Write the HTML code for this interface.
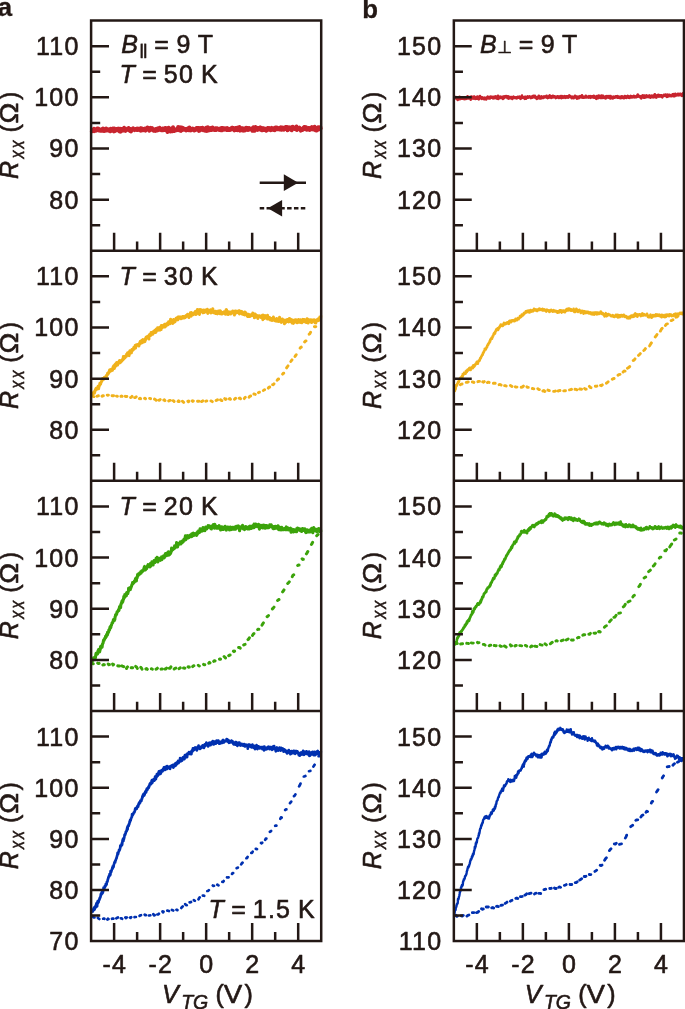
<!DOCTYPE html>
<html><head><meta charset="utf-8"><title>Rxx vs VTG</title>
<style>html,body{margin:0;padding:0;background:#fff}body{width:685px;height:1009px;overflow:hidden}</style></head>
<body>
<svg width="685" height="1009" viewBox="0 0 685 1009" style="display:block">
<rect width="685" height="1009" fill="#fff"/>
<g fill="none" stroke-linejoin="round" stroke-linecap="butt"><path d="M91.6 130.4l.3 .9 .2-.1 .3-1.3 .2 .1 .3-.3 .2 .9 .3-.6 .2 .8 .3-2 .2 2.6 .3-1.3 .2 .6 .3-.6 .2-.2 .3 .6 .2 .3 .3-.8 .2 0 .3 .5 .2-1.2 .3-.5 .2 1.3 .3-.8 .2-.9 .3 .7 .2 .2 .3-.4 .2-.1 .3 1.1 .2 .7 .3-.7 .2-.4 .3 .8 .2 .3 .3-.7 .2 .6 .3 .3 .2-.9 .3-.5 .2 .9 .3-.2 .2 .7 .3-1.9 .2 .4 .2-.2 .3-.6 .3 1.4 .2 .4 .2-.8 .3 1.6 .3-.4 .2-.1 .2-.3 .3 .4 .3-1.7 .2 1.3 .2-.1 .3-1.7 .3 1.6 .2-.5 .2 .9 .3-.9 .3 .2 .2 .3 .2-.9 .3 1.1 .3-.6 .2 .6 .2-.8 .3 1.2 .3-.3 .2-.5 .2 .6 .3 .4 .3 .4 .2-2.5 .2 1.7 .3-.4 .3-.3 .2-.8 .2 1.7 .3-1.8 .3 1.3 .2 .5 .2-2.2 .3 .9 .3-.7 .2 1.4 .2 .8 .3 .5 .3-2.9 .2 .9 .2 .9 .3 .7 .3-.8 .2-.9 .2 .6 .3-.3 .3 0 .2-.4 .2 .8 .3-.1 .3-.3 .2-.2 .2-.7 .3 .6 .3 1.2 .2-.9 .2-.9 .3 2.1 .3-.6 .2 1.3 .2-1.7 .3-.4 .3-.7 .2 2 .2 1 .3-2.5 .3 0 .2 .8 .2-1.1 .3 .5 .3 0 .2 .4 .2 .8 .3-.8 .3 .6 .2-1.2 .2 .5 .3-1.9 .3 .5 .2 1.7 .2-.8 .3 1 .3 0 .2 .7 .2-.5 .3 .1 .3-1 .2-.5 .2-.1 .3 .1 .3-.4 .2 .4 .2 .4 .3 .2 .3-.4 .2-1.2 .3 1.4 .2 .3 .3 .7 .2-.4 .3-.8 .2-.1 .3 2.1 .2-.7 .3 .8 .2 .1 .3-2.2 .2 .8 .3-.1 .2 .2 .3-.1 .2-.3 .3-.1 .2-1.3 .3 1 .2-.5 .3 .8 .2-.4 .3 .8 .2 .2 .3-.3 .2-.1 .3-.2 .2-.5 .3 .2 .2-.2 .3 .7 .2-.4 .3 .5 .2-1.5 .3 1.6 .2-1.2 .3 0 .2 .4 .3-.3 .2 .6 .3-.7 .2-.2 .3 .1 .2 1.6 .3-.9 .2-.9 .3 .9 .2-1.3 .3 2.6 .2-2.4 .3 1.5 .2-.1 .3-1.3 .2 1.3 .3 .5 .2-.3 .3-.1 .2 .4 .3-.6 .2 .1 .3-.4 .2 .6 .3-1.2 .2 1.2 .3-1 .2-.3 .3 1.1 .2 1 .3-.4 .2-1.2 .3 .8 .2-.9 .3 .1 .2 .1 .3-1.8 .2 1.8 .3-1 .2 .3 .3-.6 .2 .1 .3 .5 .2 1.4 .3 .8 .2-1.2 .3 .7 .2-1.2 .3-1.2 .2 1.5 .3 .2 .2-.5 .3 .5 .2 .1 .3-1.1 .2-.4 .3 .8 .2 .2 .3 0 .2 1 .3 .6 .2-1.5 .3 .8 .2 .2 .3-.2 .2 .3 .3-1.1 .2 .9 .3 .9 .2-.9 .3-1 .2 .8 .3 .4 .2-.5 .3-.9 .2 1.6 .3-2.1 .2 1.2 .3-.4 .2-.8 .3 1.8 .2-.7 .3-1.1 .2 1.2 .3-.9 .2-1 .3 .9 .2 .8 .3 .4 .2-.3 .3-.1 .2 .3 .3-.5 .2 1.1 .3-.8 .2 .1 .3 0 .2-1.1 .3 .3 .2 1.6 .3-.8 .2-.4 .3 .3 .2-.6 .3 .6 .2-.9 .3 .9 .2-1.5 .3 2.1 .2-1.4 .3-.7 .2 1 .3-.2 .2 .5 .3-.7 .2 1.1 .3 2.4 .2-3.6 .3 1.2 .2-.8 .3 .3 .2-1.4 .3 .5 .2 1.3 .3-.4 .2 1.4 .3-1.6 .2 .6 .3 1.9 .2-2.7 .3-.1 .2 .5 .3 0 .2 .7 .3-.5 .2-.5 .3 .7 .2 1.7 .3-1 .2-3.1 .3 1.8 .2-.6 .3 1.4 .2-.5 .3 1.7 .2-.8 .3 0 .2-.7 .3-.1 .2 .2 .3 .7 .2-.5 .3-.6 .2 1.1 .3-.9 .2-.2 .3-.7 .2 0 .3 0 .2-1.5 .3 2.9 .2-.2 .3-.4 .2 .9 .3-.7 .2 0 .3-2.2 .2 1.8 .3 .6 .2 1.1 .3 .1 .2-.5 .3-2 .2-.9 .3 2.1 .2-.4 .3 .9 .2-1 .3 .3 .2-1.4 .3 1.5 .2-.6 .3 .6 .2 .1 .3-.4 .2 .4 .3-.3 .2 .6 .3-.3 .2-.7 .3 0 .2 1.7 .3-1.3 .2 .8 .3-.6 .2-.7 .3-.2 .2 .7 .3 .1 .2 .2 .3-1.4 .2 .6 .3 .2 .2 1.4 .3-3 .2 2.1 .3-.8 .2 .9 .3-.7 .2 .7 .3 .9 .2-.8 .3 0 .2-.1 .3-.9 .2 .9 .3-.6 .2-.4 .3 .6 .2-.2 .3 .8 .2-.5 .3-.3 .2 1.5 .3-.3 .2 .2 .3-.6 .2-.6 .3-.3 .2 .1 .3 .9 .2-.6 .3-1.3 .2 1 .3-1.1 .2 1.2 .3-1 .2 0 .3 1 .2-.1 .3-1 .2 1.8 .3 1.1 .2-2.6 .3 2.4 .2-2.1 .3 .2 .2 .2 .3-.9 .2 2 .3-.6 .2-.9 .3 .3 .2-.9 .3 .8 .2 .9 .3-1.9 .2 1.1 .3 .4 .2 .8 .3 .2 .2-1.3 .3-.3 .2 .8 .3-.6 .2 .2 .2 1.1 .3 .4 .3-1 .2-.5 .2 .5 .3-2 .3 1.6 .2-.8 .2 2.7 .3-1.2 .3-.6 .2-.3 .2-1.7 .3 2.4 .3 .7 .2-1.6 .2 .9 .3 0 .3-1.6 .2 1.9 .2 .2 .3-.7 .3-.3 .2 .5 .2-1.7 .3 1.2 .3 .7 .2-1.6 .2 1.5 .3-1.1 .3-1.3 .2 1.5 .2-.7 .3 1.1 .3-1.1 .2 1.7 .2-1.4 .3 .9 .3-.7 .2 .3 .2 1.1 .3-.8 .3-.4 .2-.7 .2 1.8 .3-.3 .3-.8 .2 .3 .2-1 .3 0 .3 .2 .2 .9 .2 0 .3-.6 .3 1.1 .2 0 .2-.4 .3 .6 .3-1 .2 .1 .2 .4 .3-.4 .3 .7 .2-1.6 .2 2 .3-1.8 .3 .6 .2-.9 .2 1.5 .3 .6 .3-.2 .2-.2 .2-1.9 .3 .4 .3 .3 .2-.3 .2 1.6 .3-.6 .3-.2 .2 .3 .2-1.2 .3 .1 .3 0 .2 1.1 .2 0 .3 .2 .3 .3 .2-1.8 .2 .4 .3 .5 .3-1 .2 .7 .2 1.2 .3 .2 .3 0 .2-.8 .2-.3 .3 .9 .3-1 .2 .5 .2 .7 .3-1.3 .3-.1 .2 .4 .2 .4 .3 0 .3-.3 .2 .2 .2-1.6 .3 .5 .3 .6 .2-.8 .2-.3 .3 .1 .3 .2 .2 .6 .2-.4 .3 1 .3 1.1 .2-1.3 .2 1 .3-.8 .3-1.2 .2 .7 .2-.7 .3 1.5 .3-1.4 .2 1.8 .2-.6 .3-1.8 .3 2 .2 .6 .2-1.7 .3 1.3 .3-2.3 .2 1.6 .2-1.6 .3 1.6 .3-1.7 .2-.4 .2 2.2 .3 1.5 .3-2 .2 1.1 .2-.7 .3-.2 .3 .6 .2 .8 .2-2.1 .3 1.2 .3-.2 .2-1.1 .2 2.2 .3 .3 .3-2.1 .2 2 .2-1.3 .3-.1 .3 1.1 .2-.8 .2 .1 .3 .9 .3-.3 .2-.4 .2-1.8 .3-.2 .3 2 .2-1.6 .2 .9 .3-1 .3 .8 .2-.9 .2 2.2 .3-2 .3 .9 .2-.3 .2 1.1 .3-1.9 .3 1 .2-.1 .2 .6 .3-.1 .3-.7 .2 .6 .2-.5 .3 .6 .3-.5 .2-.3 .2 .5 .3 .3 .3 1.5 .2-2 .2 .5 .3 .6 .3-2.7 .2 .2 .2 .5 .3 .9 .3 2.1 .2-1.5 .2 .5 .3-1.3 .3-1.7 .2 .1 .2 2.4 .3-.4 .3-1.1 .2 1.8 .2-1.9 .3 2.1 .3 .1 .2-1.6 .2-.4 .3 1.5 .3-1.5 .2 1.6 .2-1.6 .3 1.5 .3-.6 .2-.3 .2-.5 .3 .8 .3-1.6 .2 1.3 .2-.2 .3 1 .3-1.4 .2 2.2 .2-1.5 .3-.5 .3 1.8 .2 .2 .2-1.3 .3-.7 .3 .6 .2-.5 .2 .4 .3 1.4 .3-.8 .2-.2 .2 .1 .3-.3 .3 .7 .2 0 .2-.8 .3 .3 .3 1.7 .2-1.4 .2-.4 .3 1.4 .3-1.5 .2-.9 .2 1.2 .3-1.1 .3 .3 .2 .5 .2-.3 .3-.5 .3 .2 .2 0 .2 1.3 .3-1.3 .3 .2 .2 1.9 .2-1.8 .3 1.6 .3-.4 .2-1 .2-1 .3 1.4 .3 .1 .2 .4 .2-.6 .3 .7 .3 .2 .2-1.8 .2 1.7 .3-1 .3-.4 .2 .1 .2 1.6 .3-.7 .3-2 .2 1.2 .2-.2 .3 0 .3-.2 .2-.8 .2 1.7 .3-1.3 .3 .4 .2-.1 .2-.1 .3 1.1 .3-.3 .2-.7 .2-.2 .3 .3 .3 1.1 .2-.6 .2 .1 .3-.4 .3-.1 .2 .4 .2-1.6 .3 2.6 .3-1.7 .2 .3 .2 1.3 .3-.8 .3-.2 .2-.6 .2-.6 .3 1.2 .3 .9 .2-1.6 .2 1.7 .3-1.9 .3 .3 .2 .9 .2-.4 .3 .5 .3-1.2 .2-.3 .2-.7 .3 .4 .3 .2 .2-.2 .2 1.3 .3-.5 .3-1 .2 3.3 .2-2.4 .3-.1 .3 1.6 .2-.1 .2-1.7 .3-.3 .3 .3 .2 1.6 .2-1 .3-.2 .3 .4 .2 .9 .2-2 .3 .9 .3-.7 .2 2.8 .2-.2 .3-.6 .3-1 .2 .5 .2-2.3 .3 1.8 .3-1.3 .2 .1 .2 .5 .3 .3 .3 .8 .2 .1 .2-.3 .3-.9 .3 1.2 .2-.6 .2 .8 .3-1.6 .3-1.3 .2 1.7 .2 2 .3-1 .3-.5 .2 .7 .2-.3 .3 0 .3-.8 .2 .4 .2 0 .3-.6 .3-.4 .2 1 .2 .7 .3-.1 .3 0 .2 0 .2 1.5 .3-1.6 .3 .5 .2 .6 .2-1.4 .3 .2 .3 .5 .2 .5 .2-1.1 .3-.1 .3-.2 .2-1 .2 1.6 .3-1.1 .3-1.1 .2 1.1 .2-1.2 .3 .6 .3 .8 .2-.7 .2 1.6 .3-1.9 .3 1.5 .2 .2 .2 .8 .3-.5 .3-.5 .2-.2 .2-.2 .3 1 .3-1.4 .2 .9 .2-.6 .3 .5 .3-.5 .2 1.8 .2-2.1 .3 .8 .3-.1 .2 .3 .2-.1 .3-.1 .3 .4 .2-2 .2 1.1 .3-1 .3 1.1 .2-1.1 .2 .3 .3 .7 .3 1.2 .2-.5 .2-.2 .3 .6 .3-1.8 .2-.9 .2 1.2 .3 .3 .3 1.2 .2 .8 .2-2.5 .3 2.9 .3-.8 .2-.4 .2-.4 .3 1.4 .3-1.8 .2-.6 .2 .4 .3-1.2 .3 1.5 .2-.5 .2 .4 .3 .1 .3-1.2 .2 1.8 .2-1.8 .3 1.5 .3-2 .2 1.5 .2-1" stroke="#c8242e" stroke-width="3.9"/>
<path d="M92.9 395.7l.5 .8 .5 .1M97 396.3l.7 -.4 .7 -.1M102 396.2l.7 -.5 .7 .1M107.2 395.1l.6 .1 .6 -.1M112 395.7l.8 0 .8 0M116.4 396.1l.5 0 .5 .2M120.9 396.3l.6 -.3 .6 .3M125.3 396.3l.8 .2 .8 0M130.6 397.6l.7 -.4 .7 -.8M134.6 397.6l.8 -.1 .8 -.7M139.4 398.6l.6 -.4 .6 .5M144.5 398.3l.5 -.1 .5 .6M149.6 398.4l.5 .1 .5 .2M154.5 399.1l.8 .4 .8 .8M158.8 400.2l.7 0 .7 -.7M163.8 400.1l.6 -.3 .6 .8M168.7 400.9l.8 -.5 .8 0M173.1 400.7l.5 .2 .5 .5M178 401.5l.6 -.7 .6 .6M182.5 401.2l.6 .7 .6 .5M187.9 401.2l.5 .6 .5 -.7M192.3 400.9l.5 .5 .5 -.4M197.5 401.2l.7 .1 .7 -.1M201.6 401.6l.6 -.3 .6 -.5M205.8 401.2l.5 -.1 .5 -.2M210.9 400.9l.7 .2 .7 .5M216.1 400.5l.7 -.4 .7 -.3M220.5 399.8l.7 .5 .7 .3M224.7 398.6l.7 .8 .7 -.3M229.3 398.9l.6 -.3 .6 .6M234.5 399.2l.6 -.6 .6 -.3M239.2 398.3l.7 -.4 .7 .9M244.3 398.6l.5 -.8 .5 -.5M249.1 397.3l.8 -1.2 .8 -.1M253.9 394l.7 .2 .7 .2M258.5 392.7l.5 -.4 .5 0M263.4 390.5l.6 -.5 .6 -.3M268.3 388.1l.7 -1 .7 -.1M272.6 384.6l.7 .1 .7 -.9M277.2 380.3l.7 -1.1 .7 -.2M282.6 374.1l.6 -.8 .6 0M286.6 367.9l.7 -1.1 .7 -.9M290.8 361.5l.6 -.8 .6 -.8M295 356.6l.6 -1 .6 -.9M300.1 348.2l.6 -.8 .6 -.3M304.6 342l.7 -.8 .7 -.3M309.2 334.2l.7 -.6 .7 -1.4M314.4 326.7l.7 .2 .7 -.2" stroke="#f0b21c" stroke-width="2.9" stroke-linecap="round"/>
<path d="M91.6 393.8l.3-.2 .2-.2 .3 .4 .2-.7 .3 .7 .2-.4 .3-.2 .2 0 .3-.8 .2-.3 .3 1.2 .2-2 .3 .4 .2-1.2 .3-.9 .2-.4 .3-.7 .2 .4 .3-.7 .2-.1 .3 1.3 .2-1.5 .3 1 .2-1.3 .3 .2 .2-1.5 .3 .4 .2 2 .3-1.9 .2-.1 .3-1.4 .2 .1 .3-2.2 .2 0 .3 .7 .2 .1 .3-1.4 .2-.2 .3-.7 .2-.2 .3-1.3 .2-.6 .3 .8 .2-1.8 .2 .4 .3 0 .3-.5 .2 .9 .2-1 .3 0 .3-1.1 .2 0 .2 .8 .3-.4 .3-.9 .2 .3 .2-.3 .3-.4 .3 1 .2-2.1 .2 .4 .3-.6 .3-.8 .2-1.1 .2 1.3 .3-.7 .3-.3 .2-.5 .2-.3 .3-1.3 .3 .8 .2-2.3 .2 1.4 .3-1.6 .3 .9 .2 .6 .2-.9 .3-.5 .3 .5 .2-1 .2-.2 .3-.2 .3 1.5 .2-1.1 .2-.4 .3-2 .3 1.3 .2-2.1 .2 1.6 .3-1.9 .3 2.7 .2-3.5 .2 2.3 .3-.9 .3-2.3 .2 1.1 .2 1 .3-.4 .3-2.8 .2 .5 .2-1 .3 .2 .3 .2 .2 2.1 .2-1.7 .3-.4 .3-.4 .2 .5 .2 0 .3-1.8 .3 1.9 .2-2.6 .2 .8 .3 .2 .3 1.1 .2-1.9 .2 .3 .3 .7 .3-.7 .2 .2 .2-.4 .3-.9 .3 0 .2 .1 .2-1.3 .3 1.1 .3-3.4 .2 .8 .2 1.6 .3-.9 .3-.9 .2 .5 .2 .4 .3-1.7 .3 1 .2-1.2 .2 0 .3-.4 .3 .8 .2-2.1 .2 .3 .3 .4 .3-1.7 .2-.5 .2 1.6 .3-.6 .3-.3 .2 .3 .3-1.4 .2 3.3 .3-3.9 .2 .3 .3-1.2 .2 .7 .3 1.7 .2-1.5 .3 .5 .2-1.3 .3 1.7 .2-1.7 .3-1.5 .2 1.5 .3-1.3 .2 .8 .3-.7 .2-.1 .3-.6 .2-1.1 .3-.8 .2 2 .3-1.1 .2 .1 .3-1.2 .2-1.4 .3 .3 .2 2.2 .3-2.1 .2 .2 .3-1.4 .2 .7 .3-.1 .2 0 .3-.1 .2-.7 .3-.1 .2 .3 .3 .3 .2-.6 .3 1.5 .2-1.7 .3-.1 .2-1.3 .3 1.1 .2-2.2 .3-.6 .2 .2 .3 1.4 .2-1.6 .3 1.9 .2-1.5 .3-1.3 .2 .8 .3 1.5 .2-2.4 .3-.5 .2 1.4 .3 .6 .2-.4 .3-1.4 .2 .3 .3 0 .2 .6 .3 .8 .2-2.3 .3 1 .2-2 .3 .6 .2-1.7 .3-.1 .2 .9 .3-1.3 .2 1.4 .3-1.5 .2 .4 .3-.4 .2-.3 .3 .6 .2 .5 .3 1.7 .2-4.1 .3 1 .2-.9 .3-.9 .2 .9 .3-1.1 .2 .4 .3 1 .2-2.9 .3 1.7 .2 0 .3-1.2 .2 1.1 .3-.3 .2-.8 .3 1.2 .2-2.5 .3 1.5 .2-1.1 .3-.8 .2 .6 .3-.4 .2 .9 .3-2.2 .2 1.1 .3-.6 .2 1.9 .3-2.7 .2 1.9 .3-2.9 .2 1.8 .3-.7 .2 .2 .3-1.3 .2-1.2 .3 .2 .2 2.4 .3-.8 .2-1.1 .3 1.2 .2-1.8 .3 .1 .2-.5 .3 2 .2 .7 .3-2.6 .2 1.1 .3 0 .2 1 .3-4.2 .2 1.9 .3 .1 .2-1.8 .3 1.6 .2-.4 .3 .5 .2-1.5 .3 .8 .2-1.1 .3 1 .2-.8 .3-.4 .2-1 .3 2.7 .2-.7 .3-.2 .2-1.6 .3 .1 .2 1.5 .3-.9 .2-1.5 .3 .5 .2-.2 .3-.3 .2-.7 .3 1.8 .2-.8 .3-.8 .2-1.5 .3 .8 .2 .3 .3 1 .2-1.2 .3 1.1 .2-1.3 .3-1 .2-2.2 .3 1.3 .2-.3 .3 1.5 .2 .4 .3 .8 .2-1.1 .3-1.1 .2 2.8 .3-2 .2-.6 .3-.3 .2-1.1 .3 1.8 .2-.2 .3 1.2 .2-.5 .3-.4 .2 .1 .3-1.6 .2-.5 .3 .1 .2-1.2 .3 1 .2-.2 .3 .7 .2-.7 .3-1.6 .2 1.4 .3 1 .2-2.8 .3 .7 .2 .4 .3-1.1 .2 .6 .3 .4 .2-1.1 .3 1.3 .2 0 .3-1.4 .2 1 .3 .9 .2-1.1 .3 .5 .2 0 .3-.8 .2 .9 .3-.7 .2-1.2 .3 1.2 .2 .1 .3 0 .2-1.3 .3 .9 .2 .7 .3-.9 .2 .7 .3 0 .2-1.4 .3 .6 .2-1.1 .3 1.1 .2-1.2 .3-.5 .2 .3 .3-.1 .2 .3 .3-.1 .2-1.5 .3 .4 .2 .7 .3 .4 .2-.2 .3 2.1 .2-1.4 .3-1 .2 .4 .3 .2 .2-1 .3-2 .2 1.6 .3-.3 .2 2.1 .3-3.7 .2 3.1 .3-1.9 .2 1.1 .3-1.2 .2 .4 .3 .8 .2-1 .3 .7 .2-1.2 .3-.4 .2 0 .3-.2 .2 .2 .3 1.1 .2-2.3 .3-.3 .2 1.3 .3 1.8 .2-.4 .3 .1 .2-.3 .3-2.2 .2 .5 .3-2.6 .2 1.7 .3 .8 .2-1.9 .3-.4 .2 .6 .3 1.7 .2 1.2 .3 1.2 .2-1.4 .3-2.8 .2-.9 .3 1.8 .2 .9 .3-2.3 .2 .9 .3-.1 .2 .6 .3-.1 .2 .6 .3 .5 .2-.7 .3 .4 .2 .9 .3-2.8 .2 .1 .3 1.1 .2 1.4 .3-1.5 .2 .8 .2-1.5 .3 1.1 .3-1.5 .2 1.2 .2-.2 .3 .2 .3 .8 .2-.3 .2-1.6 .3 1.3 .3-2.1 .2 2.5 .2 1.6 .3-1.7 .3 0 .2-.7 .2 .8 .3-1.2 .3 1 .2-.9 .2 0 .3 .3 .3 .1 .2-1.4 .2 3.3 .3-1.6 .3-1.4 .2 2.4 .2-.9 .3 .3 .3 .1 .2-1.4 .2-1.8 .3 2.7 .3 .3 .2 1 .2-1.5 .3 .5 .3 .5 .2-.5 .2 0 .3 .6 .3-1.1 .2 2.3 .2-2.2 .3 .9 .3-.4 .2-.2 .2 1.3 .3 .6 .3 .4 .2-.7 .2-1.2 .3 1.1 .3-2.1 .2 1.5 .2 .3 .3 0 .3-1.3 .2-.4 .2 2.6 .3-1.9 .3-.9 .2 .4 .2 1.2 .3 1.3 .3-.9 .2 1.2 .2-.9 .3 .2 .3 .4 .2-1.3 .2 .5 .3-.6 .3-.3 .2 1.2 .2-1.4 .3 .9 .3-.9 .2 .9 .2-.4 .3 1.5 .3-.7 .2-.2 .2 1.2 .3-4.4 .3 1.6 .2-1.6 .2 2.8 .3 .6 .3 .4 .2-.2 .2-1 .3 2.2 .3-1.4 .2-.4 .2-1 .3 1.4 .3-.8 .2 .2 .2 .4 .3 .2 .3-1 .2 1.8 .2-2.1 .3 0 .3 1.1 .2-.1 .2 .1 .3-.6 .3 .2 .2-.5 .2-1.1 .3 2.1 .3-1.5 .2 .8 .2 1 .3-.7 .3 2.4 .2-3.9 .2 .7 .3 .4 .3 1.1 .2-1.3 .2-1.2 .3 2.1 .3-1.8 .2 .7 .2 .8 .3-1.2 .3 .1 .2 .8 .2-.6 .3 .5 .3-1.3 .2 .7 .2-.7 .3-.3 .3 3.2 .2-1.1 .2 .6 .3-1.8 .3 .7 .2-.1 .2-1 .3 1.8 .3-1.2 .2 .8 .2-1.1 .3 2.5 .3-.3 .2-.1 .2-1.1 .3 .3 .3 1.7 .2-1.2 .2 .5 .3 0 .3-1.3 .2 2.5 .2-3.1 .3 2 .3-.4 .2-1 .2 1.8 .3 .2 .3-.2 .2-.6 .2 1.2 .3 .8 .3-.6 .2 1.5 .2-.7 .3-.2 .3 .4 .2-1.8 .2 .1 .3 1 .3 .2 .2 1 .2-.3 .3-.9 .3-.1 .2-.6 .2 0 .3-.1 .3 1.2 .2-1.1 .2 .1 .3 .4 .3-.7 .2 .3 .2-1.8 .3 2.4 .3-.5 .2 .5 .2 .4 .3-1.9 .3 3.9 .2-2.2 .2 .3 .3-1.9 .3 2.1 .2-.1 .2-.4 .3 .5 .3 .9 .2-1.3 .2-.4 .3 1.9 .3-.7 .2-.2 .2 2.1 .3-1.9 .3-.3 .2 .3 .2-.6 .3 .5 .3-.1 .2-.6 .2 .4 .3 .6 .3 .3 .2 .2 .2 .3 .3-.6 .3 .2 .2-.7 .2-.1 .3 1.2 .3-2.3 .2 1.9 .2 2.6 .3-4.4 .3 3 .2-3 .2 2.3 .3 .9 .3 0 .2-2.3 .2-.4 .3-.3 .3 2.1 .2-.8 .2 .6 .3 .3 .3 .3 .2 0 .2-.1 .3-1.8 .3 2.9 .2-3.8 .2 3.8 .3-1.8 .3 .7 .2-.3 .2 .2 .3 .3 .3 0 .2-.6 .2 1.9 .3-1.2 .3 1.9 .2-1.3 .2-.3 .3 .9 .3 .5 .2-1.3 .2 .5 .3 1.4 .3-2 .2 .1 .2 .6 .3-1.3 .3-.9 .2 .8 .2 2 .3 .6 .3 0 .2-.1 .2-1.4 .3 1.6 .3 .5 .2-1.5 .2 1.4 .3-1.2 .3 .4 .2 .2 .2-1.7 .3 2.7 .3-2.2 .2 .9 .2-.4 .3 .9 .3 .2 .2-.3 .2 1.2 .3-1.4 .3-.6 .2-2.4 .2 2.2 .3 0 .3-.2 .2 .2 .2 1.5 .3 .7 .3 .8 .2-.7 .2-1.9 .3 .7 .3-1.5 .2 1.9 .2-.3 .3-.8 .3 .3 .2 0 .2 0 .3 1.9 .3 1.8 .2-2 .2 0 .3-.8 .3-.6 .2 2.2 .2-2.3 .3 .8 .3-.7 .2 .8 .2-.8 .3 .6 .3-1.6 .2 1 .2 1.2 .3-1.9 .3 .4 .2 1.8 .2-1 .3 .7 .3-3.2 .2 2 .2-1.3 .3 .2 .3 1.5 .2 .7 .2-2.3 .3 .3 .3 .3 .2 .8 .2-.9 .3 3.3 .3-1.6 .2-.4 .2-.1 .3 2.4 .3 .1 .2-2.3 .2 .4 .3 .6 .3-2 .2 .5 .2 1.6 .3-1.9 .3 .3 .2-.9 .2 .5 .3 1.3 .3-1.3 .2-.2 .2 .6 .3 2.2 .3-1.2 .2-.6 .2 .5 .3 .1 .3-.2 .2-1.8 .2 2 .3-.7 .3 1.3 .2-2.1 .2 2 .3-1.3 .3-1.1 .2 2.7 .2-1.6 .3 1 .3-.5 .2 1.3 .2 .1 .3-.2 .3-.6 .2-2.3 .2-.2 .3 1.6 .3-.9 .2 1.4 .2-.5 .3-1.4 .3 .2 .2-.2 .2 .5 .3 .8 .3 .8 .2 .6 .2-1.9 .3 .4 .3 1.8 .2-.8 .2-.6 .3-2.5 .3 1.1 .2 1.2 .2-.5 .3 2.5 .3-1.9 .2 .2 .2-1.6 .3 0 .3 .3 .2 .1 .2 .5 .3 .7 .3-.2 .2 .8 .2-2.2 .3 1.5 .3-.1 .2 1.4 .2-1.7 .3 .5 .3-1.2 .2 1.1 .2-.1 .3-.9 .3 .2 .2 .2 .2 .7 .3-1.6 .3 2 .2-1.1 .2 2.1 .3-.6 .3-1.5 .2-.4 .2 2.7 .3-1.8 .3-.1 .2-1.1 .2 .2 .3 .6 .3-.1 .2-1.4 .2 1.6 .3-.9 .3-1.2 .2 1.7 .2-1.3 .3 .9 .3-1.6 .2 .9 .2-2.2 .3 1.9 .3-2.1 .2 1.4 .2-2.8" stroke="#f0b21c" stroke-width="3.0"/>
<path d="M92.3 663l.5 .7 .5 0M97.7 663.1l.7 .5 .7 -.3M102.9 665l.7 -.4 .7 .2M108.2 664l.6 .7 .6 -.1M112.6 664l.5 .9 .5 -.4M117.8 665.8l.8 .3 .8 -.1M122.1 665.9l.8 .5 .8 .3M126.5 668.4l.5 -.9 .5 -.6M131.2 667.8l.7 -.2 .7 .2M135.7 666.4l.8 .5 .8 1.5M140.8 667.4l.6 .6 .6 1.1M145.9 668.9l.7 -.3 .7 .7M151.3 668.8l.5 0 .5 .4M156 669.2l.7 -.3 .7 -.7M161 669.1l.6 -.2 .6 .1M165 669.1l.8 -.1 .8 -.9M169.3 668.3l.8 -.1 .8 -1.3M174.2 669l.8 -.6 .8 -.3M179.1 668.7l.6 -.5 .6 -.3M183.5 668.1l.7 -.1 .7 .2M188.1 666.8l.6 .4 .6 -.1M192.7 666.6l.6 -.7 .6 -.2M198.3 665.3l.5 .4 .5 .3M203.6 664.4l.6 .4 .6 -.1M208.8 663.2l.6 -.8 .6 .5M213.7 661.3l.7 -.6 .7 .2M219.5 659.2l.5 -.2 .5 .2M224.1 656.5l.7 .7 .7 .7M228.7 655.7l.7 -.5 .7 -.2M233.4 651.1l.6 .5 .6 -.4M238.6 647.4l.8 .1 .8 .7M243.7 645l.7 -.4 .7 -.2M248 639.6l.7 -.6 .7 -1.3M252.5 635.4l.7 -1.2 .7 -.6M257.7 629.5l.6 -.3 .6 0M262 625.2l.7 -1.4 .7 -.9M267.1 616.7l.7 -.5 .7 -.7M272.4 608.9l.8 -.8 .8 -1M277.6 600.5l.7 -.7 .7 -.3M282.6 591.9l.7 -.9 .7 -1.1M287.7 583.5l.8 -.8 .8 -.9M292.3 576.6l.7 -1.4 .7 -.4M297.7 565.5l.7 -.4 .7 0M302.1 558.8l.6 .6 .6 -.1M306.4 553.8l.7 -1 .7 -1.3M311.4 544.5l.6 -.9 .6 -1.2M316.7 535.7l.7 -.7 .7 -.5" stroke="#3ba30a" stroke-width="3.0" stroke-linecap="round"/>
<path d="M91.6 660.8l.3-.3 .2-.6 .3 .8 .2-1.1 .3 .7 .2-.9 .3 .6 .2-2.1 .3 .5 .2-.2 .3-.2 .2 .4 .3-.9 .2 .1 .3 .3 .2-1.6 .3-2.1 .2-.9 .3 1.4 .2-1.2 .3 .4 .2-.7 .3 .9 .2-.5 .3-2.5 .2 .6 .3-1 .2-1.2 .3 1.4 .2-.8 .3 .4 .2 1.5 .3-1.5 .2-.8 .3-1.9 .2-1.2 .3 1.6 .2-1.8 .3 0 .2-.7 .3 0 .2 1.5 .3-2.8 .2-.4 .2-.5 .3-.5 .3-1.9 .2-1 .2 .4 .3-.1 .3-1 .2-.6 .2-.5 .3-.1 .3-.2 .2-1.7 .2 .4 .3 .2 .3-.8 .2-1.6 .2 .4 .3-.4 .3 .4 .2-2.7 .2 1.6 .3-1.6 .3 .1 .2-.3 .2-1.9 .3-.4 .3-.1 .2 .2 .2-1.7 .3-1.3 .3 .1 .2 .4 .2 .3 .3-2 .3-.4 .2-.7 .2-.5 .3-1.2 .3-.1 .2 .1 .2-.7 .3-.6 .3-1.6 .2 0 .2-.6 .3 1.2 .3 0 .2-1.5 .2 .5 .3-2.6 .3-.5 .2-1.7 .2 .9 .3-1.1 .3 .1 .2-.4 .2-1.1 .3-1.4 .3 .4 .2-.5 .2-.4 .3 0 .3-1.1 .2-.5 .2 1.1 .3-1.2 .3-1.6 .2-1.4 .2-.2 .3 .5 .3-.1 .2 .9 .2-3 .3-.2 .3-1.3 .2-.2 .2-.9 .3-1.1 .3 1.5 .2-1.3 .2 .7 .3-2.2 .3 0 .2-.4 .2-2.6 .3 0 .3 1.1 .2-.9 .2-2.2 .3 .4 .3-.6 .2 .1 .2 1.6 .3-2.3 .3 1.9 .2-2.5 .2-.7 .3 1.5 .3-.7 .2 .1 .2 .1 .3-1.5 .3-.5 .2-3.1 .3 .3 .2 .7 .3-.5 .2 .3 .3-1.3 .2 1.1 .3 .5 .2-1.6 .3-.1 .2-.9 .3-.1 .2-1 .3-1.1 .2 .1 .3-.5 .2-1.8 .3 1.3 .2-.7 .3 .1 .2-1 .3 .5 .2-.3 .3-1.4 .2 .6 .3-.1 .2-.4 .3-1.9 .2-.6 .3 .8 .2-1.3 .3 2.8 .2-3.2 .3-.3 .2 .5 .3-1.3 .2-2 .3 1.5 .2-1.2 .3 .2 .2-1.3 .3 .4 .2 .3 .3-.1 .2-1.3 .3 .1 .2-.4 .3 .6 .2-.5 .3-1.2 .2 1.4 .3-1.6 .2 .8 .3-1.5 .2 .9 .3-.6 .2 0 .3 .1 .2-.3 .3-.6 .2-.3 .3-1.8 .2 .6 .3-2.1 .2-.2 .3 1.7 .2 .2 .3 1.6 .2-.9 .3 .2 .2-1.5 .3 .5 .2 .4 .3-.8 .2-.4 .3-.7 .2-1.2 .3-.2 .2-.7 .3 1.5 .2-.7 .3-.5 .2 .8 .3-.7 .2 1.3 .3 .5 .2-1.5 .3-1.1 .2-1.1 .3 2.8 .2-1.4 .3-1.6 .2 1.6 .3-2.7 .2 1 .3-.2 .2 .1 .3-.8 .2 3 .3-2.6 .2 .5 .3-.8 .2-1.5 .3 .8 .2 .5 .3 .6 .2-1.2 .3 .5 .2-1.1 .3 .7 .2-3 .3 2.6 .2-1.6 .3 0 .2-2.1 .3 1.7 .2 1.3 .3 1.6 .2-2.7 .3-.2 .2 .6 .3-.3 .2-.9 .3 .3 .2-.3 .3 .9 .2 .1 .3 .9 .2-1 .3-.4 .2-.8 .3 .6 .2-1.9 .3 2.8 .2-1.9 .3 1 .2-2.2 .3 1.4 .2-.9 .3-.6 .2-.5 .3-.2 .2 2.3 .3-.5 .2-1.1 .3-.4 .2-1.2 .3-1.2 .2-.1 .3 .9 .2 .5 .3-.8 .2 1.7 .3-.6 .2-.3 .3-2 .2 1 .3-.2 .2-1 .3-.9 .2 3.4 .3-1 .2-.8 .3 1.4 .2-.7 .3-.7 .2-.4 .3 .1 .2 .3 .3-1.4 .2-.9 .3 .3 .2-3.4 .3 2.4 .2-.8 .3 .4 .2-.5 .3 .2 .2-.5 .3-.2 .2-.6 .3 .3 .2-1.3 .3 1.1 .2-2.6 .3 1.3 .2-.1 .3-1.5 .2 .5 .3 1.2 .2-1.7 .3-.8 .2-2.3 .3 2.9 .2-.1 .3 .5 .2 1.1 .3-2.1 .2-.2 .3-1.1 .2 .4 .3-.1 .2 .5 .3-.4 .2-1.3 .3-.1 .2 1.5 .3-2.1 .2 1.5 .3 .5 .2-.9 .3-.6 .2 .7 .3-1.2 .2-.5 .3-.4 .2 1.2 .3-.7 .2 .6 .3-2 .2-.2 .3-.5 .2 .6 .3-1 .2 1.3 .3-1.1 .2-1.4 .3-1.9 .2 .8 .3 2.9 .2-1.2 .3 .3 .2-1 .3 .4 .2-2.4 .3-.2 .2 .2 .3 1.6 .2 .7 .3-.3 .2-.6 .3-1.3 .2 1.7 .3-1.1 .2 .2 .3-.4 .2-.5 .3-.5 .2 .1 .3-.8 .2 1.5 .3-.6 .2 1.2 .3-2.7 .2 2.5 .3-1.4 .2-.1 .3-.9 .2 0 .3-.8 .2 2.2 .3-.9 .2 .8 .3-.1 .2-1.3 .3 .2 .2-.3 .3 1.2 .2-.9 .3 0 .2 .4 .3-.9 .2 1.8 .3-2.7 .2 1.7 .3-.2 .2-2.3 .3 1.6 .2-1 .3 .5 .2-2.2 .3 1.1 .2-1.2 .3 .5 .2 1.2 .3-1.6 .2-2.1 .3 .6 .2 0 .3 1.9 .2-1.5 .3-.7 .2 2.2 .3-.9 .2 .2 .3-1.2 .2 1.6 .3-1.6 .2-1.8 .3 .4 .2 .3 .3 .6 .2 .7 .3-1.1 .2 0 .2 2.3 .3-2 .3-.7 .2 .3 .2-1.2 .3 1.5 .3 .4 .2-1.4 .2 1.3 .3-1.5 .3 .5 .2-1.3 .2-.1 .3-.8 .3 1.5 .2-.5 .2 0 .3-1 .3 0 .2 .4 .2 1 .3-.1 .3-.7 .2 .8 .2 1.5 .3-1.4 .3 1.8 .2-1.7 .2 1 .3-2 .3 1.5 .2-2.3 .2 1.2 .3-.7 .3-1.3 .2 .7 .2 2.4 .3-.3 .3 .6 .2-1 .2-2.9 .3 2.7 .3-.7 .2 .3 .2-.1 .3 0 .3-.1 .2 2 .2-.6 .3-.8 .3 .2 .2 1.2 .2-.5 .3-.1 .3-1.5 .2 .5 .2-.5 .3-.6 .3 2.6 .2-1.1 .2 .2 .3-.3 .3 1.6 .2 1.4 .2-1.4 .3 .3 .3-2.1 .2 1.4 .2-.1 .3 1.2 .3-1.3 .2-.9 .2 .8 .3-.2 .3 1.8 .2-.6 .2-.2 .3-.3 .3 .5 .2-1.4 .2-.3 .3-.9 .3 2.9 .2-.5 .2 .5 .3-.7 .3 1.6 .2-2.6 .2 2 .3-2.1 .3 .5 .2-.9 .2 1.4 .3-.4 .3 .7 .2-.9 .2-.5 .3 1.8 .3 .7 .2-.3 .2-.9 .3 .3 .3-1.8 .2 1.2 .2 1.3 .3-.4 .3-1.2 .2 1.5 .2-1.1 .3 .8 .3-2 .2 .9 .2 .7 .3 .1 .3 .2 .2-.5 .2-.1 .3 .3 .3 .3 .2-2.1 .2 1 .3 .1 .3 .3 .2 .8 .2-2.3 .3 1.6 .3-2.2 .2 .9 .2 .1 .3 .3 .3-.3 .2 .1 .2 0 .3 0 .3-1.5 .2 .5 .2 1 .3 1.3 .3 .5 .2 1.6 .2-2.5 .3-.9 .3 .6 .2 .3 .2-.4 .3-1.1 .3 .6 .2-.1 .2-1 .3-.1 .3 2.1 .2-2.9 .2 2.3 .3-.4 .3 1.6 .2-.6 .2-1.4 .3 1.9 .3-1.5 .2 2.3 .2-.4 .3-1.5 .3 .5 .2-.6 .2-1 .3 1.8 .3-.5 .2 .5 .2 .2 .3 .2 .3-.4 .2-1.1 .2 0 .3 .1 .3-.3 .2-.1 .2 2 .3-1.3 .3 1.3 .2-2.7 .2 .6 .3-.6 .3 .1 .2 0 .2 .3 .3-.2 .3 2 .2-1.1 .2-1.2 .3 .1 .3 .9 .2 0 .2-1.1 .3 1.2 .3-2 .2 .6 .2 1.9 .3-3.7 .3 2.2 .2 .8 .2-.9 .3-.7 .3-.4 .2-1 .2 .7 .3 1.3 .3-.4 .2 .7 .2-.3 .3 .4 .3-1.8 .2 1.2 .2-.1 .3-.1 .3-.4 .2-1 .2 2.7 .3 .4 .3 1.7 .2-1.4 .2 .7 .3-1.2 .3-1 .2 .6 .2-1.5 .3 1.2 .3-.3 .2-.6 .2 2.1 .3 0 .3-.4 .2 .2 .2 .5 .3-1.7 .3-1.1 .2 .2 .2 1.4 .3-.2 .3-1.4 .2 2.6 .2-.9 .3 1.3 .3-.5 .2-1.5 .2 .2 .3-.8 .3-.1 .2 .7 .2 .7 .3 .9 .3-2 .2 1.4 .2-.7 .3-.1 .3 1.2 .2-1.3 .2 1.5 .3-1.6 .3-.6 .2 1.3 .2-2 .3 .4 .3 .8 .2 .2 .2-.2 .3-1.4 .3 .6 .2 1.6 .2 .3 .3-1.1 .3 1.2 .2-.1 .2 1 .3-1.6 .3 2.2 .2-1.6 .2 1.6 .3-.6 .3-1.6 .2 .6 .2 .4 .3 .7 .3-2 .2 .9 .2 .8 .3 0 .3-1.2 .2 0 .2 1.2 .3-1 .3 1.2 .2 .4 .2-.6 .3-2.3 .3 3.6 .2 .1 .2 .3 .3-.4 .3-2.3 .2 2.7 .2-1 .3 .7 .3-1.1 .2 .1 .2-.1 .3 1.7 .3-1.3 .2-.3 .2-1.1 .3 1.6 .3-.3 .2 .4 .2 .7 .3-.2 .3-.6 .2 .2 .2-.1 .3 .6 .3-.1 .2-.4 .2-.9 .3 1.4 .3 .1 .2-1.7 .2 1 .3-.7 .3-1.4 .2 1.8 .2 .9 .3-1.2 .3 0 .2 1.3 .2-1.8 .3 .3 .3 .6 .2 .9 .2 .1 .3-1 .3 .1 .2 .3 .2-.5 .3-.3 .3-.2 .2 2 .2-.7 .3 2.8 .3-2 .2-1.2 .2 .5 .3 .3 .3 .2 .2 .1 .2 0 .3-.3 .3 .7 .2 1.3 .2-2.3 .3 .2 .3 .8 .2 .7 .2-.3 .3 .3 .3-1.2 .2-.1 .2 .8 .3 .3 .3 .7 .2 0 .2-3.2 .3 2 .3-1.4 .2-1.1 .2 2.2 .3-.6 .3 0 .2-.9 .2 .2 .3 .8 .3-1 .2 1.3 .2 .3 .3-.1 .3 .3 .2-.4 .2-.9 .3 .2 .3 1 .2 .9 .2-.6 .3-.8 .3 .4 .2-1.8 .2 .8 .3 .5 .3 .5 .2-.3 .2 .1 .3-.8 .3 .4 .2 .6 .2-1.7 .3 .8 .3 .8 .2 2 .2-.5 .3 .8 .3-.3 .2-1.8 .2 .3 .3-1 .3 2.2 .2-.3 .2 0 .3 0 .3-.2 .2-.2 .2 0 .3 .7 .3-1.9 .2-.1 .2 .8 .3 1.1 .3-.6 .2-.4 .2 .6 .3-.8 .3-2 .2 .7 .2-1.1 .3 1.9 .3 .1 .2 .9 .2 1.5 .3-2.5 .3 .2 .2-.6 .2-2.2 .3 1.8 .3 0 .2 1 .2-.9 .3-.4 .3 1.6 .2-.7 .2-.6 .3 .1 .3 .5 .2 1 .2 .7 .3-2.5 .3 2.2 .2-1.1 .2 .3 .3 .5 .3-1.9 .2 1.5 .2-2.2 .3 1 .3-.3 .2 2.5 .2 0 .3-.7 .3-.3 .2-.9 .2 2.1" stroke="#3ba30a" stroke-width="3.1"/>
<path d="M93.1 917l.7 .5 .7 0M97.9 917.8l.7 .7 .7 .5M103.2 918.7l.6 -.2 .6 .3M107.3 919.5l.6 -.8 .6 .4M112 918.8l.7 -.3 .7 .1M116.3 918.3l.8 -.5 .8 -.3M120.9 918.3l.6 0 .6 .5M125.4 917.5l.7 .6 .7 -.7M130 917.6l.6 .3 .6 -.7M134.5 917.1l.7 -.1 .7 0M139.6 915.9l.7 -.5 .7 -.2M144.7 914.6l.6 .5 .6 .1M148.9 915.5l.7 0 .7 -.2M153.3 914.1l.7 1.3 .7 -.2M157.3 914.5l.8 0 .8 -.8M162.5 911.5l.5 .9 .5 -.7M167.3 910.6l.8 .2 .8 .3M171.9 909.9l.7 .4 .7 .2M176.4 909.8l.5 -.1 .5 .4M181.3 908l.7 -1 .7 -.6M185.2 904.1l.8 .9 .8 .2M189.6 902.3l.7 0 .7 -.3M193.9 900.1l.5 .6 .5 .1M198.5 899.4l.6 -1.2 .6 -.9M202.8 895.6l.7 0 .7 .2M207.3 891l.8 -.1 .8 -.8M212.8 885.5l.6 .5 .6 -.2M217.3 884.6l.6 .5 .6 .3M222.3 881.8l.7 .2 .7 -1M227 877.4l.8 .1 .8 -.1M232 873.9l.6 -.9 .6 .1M236.7 868.2l.6 -.4 .6 -.1M241.2 864.4l.7 -1.2 .7 -.5M246.4 858.2l.6 -.2 .6 -1.1M251.3 852.9l.7 0 .7 -1.3M255.8 848.8l.6 .1 .6 .3M261 842.9l.6 .4 .6 -.6M265.2 839.9l.6 -1.2 .6 -.1M269.9 831.8l.6 -.3 .6 -.6M275.2 825.8l.6 -.2 .6 .1M280.3 818.8l.7 -1.4 .7 .2M285.2 810l.6 -.6 .6 0M290 803.1l.6 -.7 .6 -.8M294 796.1l.7 -.5 .7 -1.2M299.1 786.4l.7 -1.2 .7 -1.6M303.8 776.5l.8 -.1 .8 -.4M309 771.2l.7 -.2 .7 -.1M313.4 766.6l.6 -1 .6 -.8M318.6 756.2l.7 -.3 .7 .2" stroke="#0030b0" stroke-width="2.7" stroke-linecap="round"/>
<path d="M91.6 911.7l.3-1.3 .2 .4 .3-.9 .2 .8 .3 .8 .2-1 .3-.9 .2-1 .3-.2 .2-.9 .3-.2 .2 2.3 .3-1.7 .2-1.2 .3 .7 .2 .2 .3-2.3 .2-.2 .3-1.5 .2-.4 .3 2 .2 1.3 .3-3.8 .2-1.3 .3 1.9 .2-.6 .3-.9 .2 .2 .3-2 .2-.1 .3-.1 .2-1.5 .3 .2 .2-1.2 .3-.1 .2-.8 .3-2.4 .2 1.1 .3-2 .2 .2 .3-1.3 .2 1.6 .3-1.3 .2-.5 .2 .8 .3-1.3 .3-1.2 .2-2.4 .2 1.7 .3-1.3 .3-.6 .2 .3 .2-1.7 .3 0 .3 .1 .2-.7 .2-1.5 .3 1.2 .3-.9 .2 .1 .2-2.3 .3-.4 .3 0 .2-1.2 .2-.9 .3-.9 .3-.9 .2-.9 .2-.6 .3 .2 .3-1.1 .2-1.4 .2 .8 .3 .6 .3-.8 .2-3.4 .2 .2 .3 .6 .3-1 .2-.6 .2-.9 .3-.4 .3-1.6 .2 1.2 .2-2.4 .3 .3 .3 .7 .2-.9 .2-1.6 .3-.9 .3-1.2 .2-.5 .2-.5 .3 .8 .3-2 .2 .2 .2-.9 .3-.6 .3-1.2 .2 .1 .2-1.2 .3-.9 .3-1.2 .2-2 .2 1.7 .3-.6 .3-1.6 .2-.5 .2-.4 .3-1.6 .3 .8 .2-.6 .2-.7 .3-.6 .3-3.2 .2 1.4 .2-1.5 .3 .8 .3-.8 .2-.5 .2-1.6 .3 1.6 .3-3.1 .2-1.6 .2 1 .3-2.6 .3 2.4 .2-1.4 .2-.3 .3-1.1 .3-1.4 .2-2.1 .2-.2 .3 .4 .3-1.2 .2-.2 .2-1.6 .3-.6 .3 .2 .2-.3 .2-1.3 .3-1.4 .3-1.4 .2 2.4 .2-3.3 .3-.2 .3-.8 .2 .8 .3-1.9 .2 .4 .3-1 .2-1.9 .3 .4 .2-1.8 .3 .3 .2 .1 .3-1.4 .2-1.2 .3-.2 .2-.6 .3-.3 .2-2.7 .3-.2 .2 1.4 .3-.9 .2-.2 .3-.5 .2-.8 .3-.7 .2 0 .3 0 .2-.8 .3-.7 .2-1.6 .3 .6 .2-1.6 .3 0 .2 .4 .3-.3 .2 .5 .3-.6 .2-.8 .3-1.2 .2-.1 .3-.6 .2 1.2 .3-1.6 .2-1.2 .3-.8 .2 1.3 .3-2.1 .2 .7 .3-.7 .2 .4 .3-2.1 .2 .8 .3-.7 .2 .2 .3 0 .2-1.5 .3-.9 .2 .4 .3-2.5 .2 .8 .3-1.6 .2-.7 .3-.7 .2-.3 .3 1.7 .2-.1 .3-1 .2 .2 .3-1.4 .2-.9 .3-.9 .2 1.2 .3-.4 .2 0 .3-2.4 .2 .1 .3-1.4 .2 1.8 .3-.8 .2-.4 .3-1 .2-.5 .3-.7 .2 1 .3-1.8 .2 .8 .3-1.1 .2-1.5 .3-.8 .2 0 .3 .4 .2-1.2 .3 1.4 .2-.1 .3-.9 .2-2.2 .3-.9 .2 2.2 .3 .4 .2-1.7 .3 .3 .2-1.1 .3-.7 .2 1.1 .3-1.5 .2 .9 .3 .5 .2-2 .3 1.4 .2-3.2 .3 1.8 .2-1.3 .3 1.9 .2-2.4 .3-1.1 .2 1.5 .3-3 .2 1.6 .3-1.5 .2 1.8 .3-1.6 .2 .5 .3-1.3 .2-1 .3-1.2 .2 3 .3-1.4 .2-1.2 .3 .2 .2 1.1 .3-2.3 .2 3 .3-2.3 .2-.2 .3 .9 .2-1 .3-1.1 .2 1.4 .3-.7 .2 .4 .3-1.9 .2-.4 .3 1 .2-1 .3-1.5 .2 1.1 .3 1 .2-1.1 .3 1.6 .2-1.8 .3 .2 .2-1.5 .3 .7 .2 .4 .3 .8 .2-.5 .3 .7 .2-2.9 .3 1.7 .2-.4 .3-.7 .2 .8 .3-.7 .2 1.1 .3-.8 .2 .8 .3-1.3 .2 2 .3-.9 .2 1.1 .3-1.8 .2-.5 .3 .2 .2-.5 .3-.6 .2 .8 .3-.2 .2-.5 .3 .1 .2-.7 .3 1.1 .2-1.3 .3 2.7 .2-1.7 .3 .8 .2-2.1 .3 1.3 .2-.6 .3 .8 .2-.2 .3-2.5 .2 2.2 .3-2.5 .2 2.2 .3-1.5 .2-1.1 .3 1.2 .2-.9 .3-1 .2-.3 .3 .8 .2-1.6 .3 .2 .2 2 .3-2.3 .2 1 .3-.3 .2 .1 .3-.4 .2-3 .3 1.4 .2 1.3 .3-1.6 .2 1.9 .3-1.6 .2-1.1 .3 1.1 .2 1 .3-2.4 .2 .7 .3-1.5 .2 .1 .3 .4 .2 .3 .3-.1 .2-.4 .3 1.5 .2-3.2 .3-.8 .2 1.5 .3-.2 .2-1.5 .3 2.3 .2-2.2 .3-.6 .2 1.4 .3-.1 .2 1.3 .3-3.6 .2 0 .3 .4 .2-.2 .3 .1 .2-.8 .3-.8 .2 .8 .3 .8 .2 .1 .3-1.4 .2 .7 .3-.4 .2-.9 .3 .1 .2 .1 .3 2.1 .2-2.5 .3-1.1 .2 .2 .3-.8 .2 1.3 .3-3 .2 .8 .3 1.4 .2-.3 .3-.5 .2 .3 .3-2 .2 1.2 .3-1.5 .2-.2 .3 1.4 .2-1.1 .3 .3 .2 .8 .3-1.2 .2 1.3 .3 1.4 .2-2 .3 .8 .2-.6 .3-1.8 .2-.4 .3 1 .2-1.7 .3 1.9 .2 .2 .3 .4 .2-.1 .3 .8 .2-1.6 .3 1.4 .2-.9 .3 0 .2-.9 .3 .9 .2-1.5 .3 1.1 .2 0 .3-1.6 .2-.4 .3 0 .2 .6 .3 .5 .2 .6 .3 .8 .2-.4 .3-1.5 .2-.7 .2-.9 .3 1.6 .3-.3 .2-.7 .2-.3 .3-.1 .3-2.1 .2 2.1 .2 .2 .3-.2 .3-.8 .2 1 .2 .4 .3 1.3 .3-.7 .2-.7 .2-.8 .3-1.4 .3 .7 .2-.7 .2 1.2 .3 1.1 .3 0 .2 0 .2-1 .3 .5 .3-1.2 .2-1.5 .2 1.5 .3-.2 .3-1.6 .2 .9 .2-1.6 .3 1.8 .3 1.5 .2-1.4 .2 1.6 .3-1.2 .3-.8 .2-1 .2 2 .3-.1 .3-1.7 .2 .7 .2 1.3 .3-1.7 .3 .9 .2-2.2 .2 .8 .3 1.2 .3-1.6 .2-.3 .2-.2 .3 .9 .3-.9 .2 1.5 .2 .5 .3 1.1 .3-1.7 .2 1.6 .2-1.1 .3-.5 .3 .5 .2 .9 .2-.1 .3-.7 .3-.9 .2 .6 .2-.6 .3 .1 .3-.2 .2 1.3 .2-2.8 .3 1 .3-1 .2 1.8 .2 .2 .3 .2 .3-1.5 .2 .2 .2 .5 .3-.4 .3 0 .2-.1 .2 0 .3-.5 .3 .5 .2-1.8 .2 .9 .3-.8 .3 1.3 .2-.4 .2 1.2 .3 .6 .3-2 .2 .6 .2 1 .3 1.2 .3-.5 .2-.2 .2-.4 .3-.3 .3 .8 .2 .2 .2-.3 .3-.7 .3-.8 .2 .6 .2 .6 .3-.5 .3 1.4 .2-1.3 .2 1.2 .3 .7 .3 .7 .2-.4 .2 .8 .3-1.5 .3-.2 .2 1.6 .2-1.7 .3 .8 .3-1.3 .2 2.5 .2-.5 .3-1 .3-.9 .2 1.8 .2 .3 .3 .9 .3 .6 .2-1.4 .2-.5 .3-.2 .3-.2 .2-.8 .2 .3 .3 .6 .3-1 .2 .3 .2 2.3 .3-1.4 .3 1.5 .2 .2 .2-.8 .3 .6 .3-1 .2-.5 .2 .6 .3 .2 .3 .1 .2 .1 .2-.4 .3 1.3 .3-1 .2-.2 .2 1.1 .3-1.5 .3 1 .2 1.3 .2-1.1 .3 1.2 .3-1.6 .2-.2 .2 .2 .3-.3 .3 .3 .2 0 .2 1.2 .3-.4 .3-.1 .2-.5 .2 3.5 .3-3 .3 1.4 .2-2.3 .2 .3 .3 1.5 .3-1.8 .2 0 .2 .8 .3-.4 .3 .6 .2 .4 .2 .7 .3-.4 .3 .3 .2 .8 .2-.1 .3-1.6 .3-1.2 .2 .6 .2 1.8 .3-1.2 .3 .1 .2 .2 .2 1.7 .3-1.2 .3-.4 .2-.1 .2-.3 .3 3.4 .3-2.4 .2 .4 .2-.7 .3 1.1 .3-1.8 .2-.7 .2 1.3 .3 .9 .3 1.8 .2-2 .2-.7 .3 .3 .3-.4 .2 .1 .2 .8 .3 .4 .3-.7 .2 1.5 .2-1 .3 .3 .3-.6 .2 .9 .2 0 .3 .3 .3-1.3 .2 1.2 .2-.9 .3 .8 .3 .5 .2 .6 .2-1.7 .3-.5 .3 1 .2 1.2 .2-1.4 .3 2.5 .3-3.7 .2 3 .2-.5 .3 .2 .3-1.7 .2 1.9 .2-.2 .3 .1 .3-1.3 .2 0 .2 1.1 .3-.8 .3-.6 .2-.6 .2 1 .3-1.4 .3 1.6 .2-.3 .2-1.2 .3 1.7 .3 .5 .2-.7 .2-1.3 .3 .4 .3 1.2 .2-1.6 .2 .8 .3 1.2 .3-1 .2-.1 .2 1.1 .3 .7 .3-1.2 .2-1.5 .2-.5 .3 1.1 .3-1.1 .2 1.4 .2 .9 .3-2.9 .3 2.1 .2 .5 .2-.5 .3 1 .3 .3 .2 .6 .2 1.3 .3-2.2 .3-1.2 .2-.3 .2-.1 .3 1.8 .3-.2 .2 .4 .2-.2 .3 1.3 .3-.5 .2-.1 .2-1.7 .3 .2 .3-.9 .2 .5 .2 .7 .3-.8 .3 .6 .2 2.1 .2-1.8 .3-1.1 .3 .2 .2 1 .2 1.1 .3-.6 .3 .8 .2-.4 .2-1.2 .3 2 .3-1.3 .2 2.2 .2-2.2 .3 .4 .3-.4 .2 .3 .2 .9 .3-.4 .3 1.4 .2-.7 .2 1.2 .3-1.2 .3 1.1 .2 0 .2-.9 .3 2.3 .3-.9 .2-.8 .2-.8 .3 0 .3-.1 .2 .4 .2-1.1 .3 1.2 .3-.5 .2 2.3 .2-.5 .3 .9 .3 .7 .2-1.6 .2 1.3 .3-1.7 .3 .3 .2-1.4 .2 .9 .3 1.1 .3-.6 .2-.8 .2 .2 .3-.8 .3 .2 .2-.5 .2 2.3 .3-.1 .3-.9 .2-.9 .2 .8 .3 1.9 .3-2.8 .2 .9 .2-.3 .3 1.3 .3-1.8 .2 1.4 .2-1.1 .3 .6 .3-.8 .2 1.6 .2-.7 .3 .1 .3 1.6 .2-.5 .2 1.8 .3-1.7 .3 0 .2-.1 .2 2.2 .3-1.2 .3-1.3 .2 .3 .2-.8 .3 1 .3-1 .2 .1 .2 .9 .3 .9 .3-.3 .2-.4 .2-.7 .3-2.2 .3 1.9 .2 .2 .2 .9 .3 .9 .3-.8 .2-2.2 .2 1.4 .3-.2 .3 .8 .2-.8 .2-1.5 .3 .6 .3 .5 .2-1.3 .2 1.8 .3-.1 .3 1.3 .2-1 .2-.4 .3 .4 .3 .1 .2 .7 .2-1.4 .3-1.1 .3 4.3 .2-1.4 .2-.6 .3 1.8 .3-3.2 .2 .3 .2 .1 .3 .9 .3-.8 .2 1.2 .2-1 .3 1.3 .3-.8 .2-1.9 .2 1.3 .3-1 .3 1.2 .2 .1 .2 1.8 .3-2.1 .3-1.3 .2 1.4 .2-1 .3 2.9 .3-1.1 .2 .8 .2-1.9 .3-.7 .3 .9 .2-1.5 .2 .4 .3 0 .3 .5 .2-1 .2-.5 .3 3 .3-1.5 .2 .5 .2 .5 .3-.1 .3-.8 .2 .2 .2 1.8 .3-.1 .3-.6 .2 .5 .2-3.4" stroke="#0030b0" stroke-width="2.7"/>
<path d="M454.3 98.1l.3-.2 .2-.9 .2 1.3 .3 0 .3-.1 .2-1.2 .2 .9 .3 .2 .3-.1 .2 .4 .2 .1 .3 .7 .3-.7 .2 1.4 .2-1.4 .3 0 .3 .1 .2-.4 .2-.3 .3 .7 .3-1.8 .2 .3 .2 2.1 .3-.6 .3 0 .2-.3 .2-.1 .3-.8 .3 .4 .2-.4 .2 1.3 .3-.2 .3-.2 .2 0 .2-.3 .3-.5 .3 1.5 .2-.5 .2-.3 .3 .4 .3 .3 .2 .1 .2-.4 .3 .1 .3-.6 .2 .9 .2-.4 .3 .1 .3-1.3 .2 1.1 .2-.3 .3 .1 .3-2 .2 .4 .2 1.1 .3-.5 .3 .9 .2-.3 .2 .5 .3-.8 .3-.3 .2 .8 .2-.6 .3-.2 .3-.5 .2 2.8 .2-2 .3 .1 .3-1.1 .2 .5 .2 .6 .3 .3 .3 .4 .2-.8 .2 .6 .3 .3 .3-1 .2 .2 .2-1.1 .3 .6 .3-.4 .2 1.4 .2-.4 .3 1.1 .3-.8 .2 .4 .2-.3 .3-.1 .3-.8 .2 1.4 .2-1.1 .3-1 .3 .7 .2-.2 .2 1.5 .3 .1 .3 .3 .2 .2 .2-1.8 .3-.8 .3 .3 .2 .7 .2-1.6 .3 1.2 .3 .8 .2-.8 .2 .5 .3-.4 .3 1.5 .2 .1 .2-1.6 .3 0 .3 .5 .2 .4 .2-.1 .3 .2 .3 .3 .2 .1 .2 .4 .3-1.1 .3-.3 .2 .2 .2 1.3 .3-.6 .3 0 .2 .3 .2-.1 .3 .6 .3-1.9 .2 .6 .2 .1 .3 0 .3-.7 .2-.8 .2 .7 .3-.2 .3 .5 .2 .6 .2-.2 .3-1 .3 .2 .2 .5 .2 .6 .3-.8 .3 .1 .2-1.1 .2 .6 .3-.2 .3 .6 .2-.3 .2-.3 .3-.2 .3 .8 .2-.4 .2 1.1 .3-.6 .3-.2 .2 .6 .2-1.2 .3 1.2 .3-1 .2 .8 .2-1 .3-.1 .3-.5 .2 1 .2 .4 .3-.9 .3 1.7 .2-.9 .2-.6 .3 1.7 .3-1.5 .2 1.3 .2-2.6 .3 2.9 .3-1.2 .2-.1 .2 .2 .3-.9 .3 1.2 .2-.3 .2-.1 .3-.5 .3-.3 .2 .8 .2 .3 .3-.4 .3-.1 .2-.2 .2 .7 .3 .4 .3-.8 .2-.5 .2 1.8 .3-2.3 .3 1.2 .2-.4 .2 .8 .3-.9 .3-.8 .2 .2 .2 .6 .3 0 .3-.4 .2 0 .2-.6 .3 0 .3 .5 .2 0 .2 .5 .3-.6 .3 1.6 .2-1.8 .2 1.6 .3-.1 .3 .6 .2-.2 .2-1.5 .3 .9 .3 .2 .2 .1 .2-.1 .3-.7 .3 1 .2-.9 .2-.2 .3 .3 .3-.3 .2 0 .2 .5 .3 1.4 .3-1.3 .2-.1 .2-.5 .3 .4 .3-.8 .2 1 .2-.2 .3 0 .3 .2 .2-.3 .2 .5 .3-.1 .3 0 .2-.3 .2 .5 .3-.6 .3 .9 .2-.8 .2 .7 .3-.7 .3-.1 .2-.6 .2 .9 .3-.1 .3-.1 .2 .1 .2-.3 .3-.5 .3-.2 .2 1.1 .2-.1 .3 .9 .3 .3 .2-.6 .2-.2 .3-.2 .3-.5 .2-.4 .2-1.2 .3 2 .3-.1 .2-.1 .2 .1 .3 .4 .3 0 .2-.4 .2-.3 .3 .6 .3 0 .2 .9 .2-1.9 .3 .7 .3-.7 .2 .2 .2 1.6 .3-1.6 .3 .3 .2-.5 .2 .8 .3-.7 .3-.6 .2 .9 .2 .4 .3-.4 .3 0 .2-.5 .2-.2 .3 .5 .3-.7 .2 .5 .2-.3 .3 .5 .3 .7 .2-.4 .2 .6 .3-.5 .3-.3 .2-.6 .2 .6 .3-.8 .3 1.1 .2-1.3 .2 0 .3 .2 .3-.4 .2 1.1 .2-.4 .3 .1 .3 .6 .2-1.5 .2 1.2 .3 .3 .3 .4 .2-.4 .2-.4 .3 1 .3 .1 .2 .7 .2 0 .3-1.3 .3 .6 .2-.7 .2-.6 .3 .7 .3 .5 .2-2.1 .2 2.1 .3-1.3 .3 1.6 .2-.8 .2 0 .3 .7 .3-1 .2 1.3 .2-1.9 .3 .3 .3-.5 .2 1.1 .2-.3 .3 .6 .3 .2 .2-.1 .2 .1 .3-.1 .3-.8 .2-.3 .2-.3 .3 .9 .3-.7 .2-.2 .2 0 .3 .4 .3 .2 .2-.1 .2-.6 .3 .8 .3-1.4 .2 1.1 .2 .8 .3-.3 .3 .6 .2-.7 .2 .2 .3-.3 .3-.2 .2 .3 .2 .2 .3-1.7 .3 .5 .2-.8 .2 .7 .3-.2 .3 .7 .2 .2 .2 .7 .3 .2 .3-1.1 .2 .1 .2 .5 .3-.8 .3 .2 .2-.8 .2 1.4 .3-.3 .3-.7 .2-.2 .2 .1 .3 .8 .3-.4 .2-.3 .2 .5 .3 .8 .3 .3 .2 .1 .2-.7 .3 0 .3 0 .2 .2 .2-.1 .3-1 .3 .2 .2 .1 .2 .6 .3-.6 .3 0 .2 .9 .2 .3 .3-1.2 .3 .3 .2 .7 .2-.9 .3 .7 .3-1.3 .2 .8 .2 .5 .3 .5 .3-.5 .2-1.5 .2 0 .3 .4 .3 1.1 .2 .1 .2 .2 .3-.3 .3-.8 .2 .1 .2-.4 .3 1 .3-1.2 .2 .9 .2 0 .3 .7 .3-1.2 .2 .7 .2-.9 .3 1.1 .3-.8 .2 0 .2-.4 .3 .1 .3 .1 .2 0 .2 1.1 .3-1.1 .3 .6 .2 .1 .2-1 .3-.7 .3 1.4 .2-1.1 .2 .6 .3 .4 .3 .2 .2-.2 .2-.2 .3 1.1 .3-.5 .2 1 .2-1.7 .3 .5 .3-.1 .2 .4 .2 0 .3-.1 .3 1 .2-1.2 .2 .3 .3-.2 .3-.5 .2 .8 .2-1.6 .3 1.7 .3-1.5 .2 .7 .2 .2 .3-.2 .3 .2 .2 1 .2 .7 .3-.8 .3-.6 .2-.5 .2-.1 .3 1.2 .3-.1 .2 .4 .2-.3 .3 .1 .3-1.2 .2-.2 .2-.2 .3 .6 .3-.2 .2 .3 .2-.7 .3 .8 .3 .2 .2-.4 .2-1.5 .3 1.5 .3-.2 .2 .9 .2-.7 .3 .5 .3-.5 .2 .4 .2 .3 .3-.7 .3 .4 .2-.2 .2 .3 .3-.5 .3 .3 .2-1.3 .2 1 .3 .5 .3-.1 .2-.8 .2 0 .3 .7 .3 0 .2 .1 .2-.1 .3-.1 .3 .4 .2-1 .2-.3 .3 1.3 .3-1 .2 .8 .2-.7 .3-.2 .3 1.4 .2-.9 .2-.7 .3 .6 .3 0 .2 0 .2 .2 .3-.7 .3 .5 .2 .4 .2 .1 .3-.3 .3-.5 .2-.7 .2 1.8 .3-1.3 .3 .5 .2 .1 .2 .3 .3-.2 .3-.3 .2 .5 .2 1.2 .3 .3 .3-1.6 .2 .4 .2-1.5 .3 1.1 .3 .3 .2-.4 .2 1.2 .3-.7 .3-.1 .2-1.9 .2 1 .3 .6 .3-.5 .2-.6 .2 .7 .3 1.2 .3-.3 .2 .2 .2-.6 .3 .6 .3-2.3 .2 .9 .2 1.6 .3-.3 .3-.5 .2-.4 .2-.9 .3 .7 .3 .2 .2-.2 .2 1.3 .3-.2 .3-.6 .2 .6 .2-.7 .3 .4 .3-.6 .2 1.6 .2-2.1 .3 .8 .3 .4 .2 .1 .2-1.5 .3 .3 .3 .3 .2-.3 .2 .2 .3 .3 .3 0 .2 .8 .2-1.6 .3 1.6 .3-.8 .2 .7 .2-.7 .3 1.6 .3-2.4 .2 1.7 .2-1 .3 .2 .3 .9 .2-.8 .2 .6 .3 .4 .3-1.1 .2 1.4 .2-.5 .3-.8 .3 .1 .2-.5 .2 .6 .3 .4 .3 0 .2-.4 .2-.6 .3-.1 .3-.2 .2 .4 .2 .5 .3-.7 .3 0 .2-.2 .2 .8 .3-.3 .3-.7 .2 1.5 .2 0 .3-.5 .3-.3 .2 .1 .2-.4 .3 1.2 .3 .2 .2-.1 .2-.5 .3 0 .3 .1 .2 .6 .2-1.4 .3 .3 .3-.4 .2-.2 .2 .8 .3 .5 .3-1.1 .2 1.2 .2-.2 .3-.1 .3 .5 .2-1.1 .2 1.2 .3-1.2 .3 .6 .2-1.3 .2 1.4 .3-.6 .3-.3 .2-.2 .2 .7 .3 .6 .3-.4 .2-.6 .2-.3 .3-.3 .3 .4 .2-.6 .2 .7 .3 .8 .3-.6 .2 0 .2-.2 .3 .8 .3-.1 .2 .4 .2-1.3 .3-.3 .3 .1 .2-.3 .2 .7 .3-.2 .3-.1 .2 .5 .2 .5 .3-.1 .3-.7 .2 .3 .2 .1 .3 .1 .3-.5 .2-.6 .2 .8 .3-.7 .3 .4 .2 0 .2 .8 .3-.8 .3 .3 .2-.2 .2-.2 .3 .8 .3-.7 .2 .4 .2-.2 .3-1.4 .3 .1 .2-.8 .2 1.9 .3 .1 .3-.3 .2-.1 .2 .1 .3-.1 .3 .3 .2 .1 .2-.4 .3 1.2 .3-.1 .2-.6 .2 1.4 .3 .2 .3-.7 .2-.2 .2-1.2 .3 .1 .3-.8 .2 .7 .2 .7 .3-.6 .3-.6 .2 1.8 .2 .2 .3-.1 .3-1.9 .2 1.2 .2-1 .3 .6 .3 .4 .2 .4 .2-1.2 .3 .1 .3-.7 .2 .7 .2-.5 .3 .4 .3 .7 .2-.4 .2 .1 .3 .2 .3 .2 .2 .2 .2-1.4 .3-.3 .3 1.2 .2 .2 .2 .6 .3-.4 .3 .5 .2-.7 .2-.8 .3 .8 .3-1.1 .2 .1 .2 .6 .3-.3 .3 .8 .2-.8 .2 1.2 .3-1.6 .3 1 .2-.8 .2 1.2 .3-1.4 .3 .7 .2-2.1 .2 1.4 .3 1.2 .3-.5 .2 .1 .2 .3 .3 .8 .3-2 .2 .5 .2-.4 .3 .6 .3-.8 .2-.4 .2-.1 .3 1.3 .3-.2 .2 .4 .2-1.5 .3 .4 .3 .2 .2 .8 .2-.2 .3-.3 .3-.6 .2 .7 .2-.2 .3 .8 .3 .3 .2-.7 .2-.7 .3 1.8 .3-.9 .2 0 .2-.4 .3 0 .3-.2 .2 0 .2-1 .3 .4 .3 .4 .2 .2 .2 0 .3 0 .3-1.3 .2 .5 .2 .1 .3 .6 .3-.1 .2 1.2 .2-1.4 .3 .1 .3-.8 .2 1.9 .2-1 .3-.1 .3-.4 .2 .5 .2-.3 .3 .8 .3-1.2 .2 .3 .2-.1 .3 .7 .3-.1 .2 .4 .2-.3 .3 .1 .3-.4 .2 .5 .2-.4 .3-.1 .3-1.2 .2 .4 .2 0 .3-.5 .3 1.8 .2 .2 .2-.1 .3-.4 .3 .4 .2-1.9 .2 1.6 .3-1.9 .3 1.3 .2-.1 .2 .4 .3 0 .3 0 .2-.9 .2 0 .3-.2 .3 .4 .2-.1 .2-.8 .3 1.4 .3-1.2 .2 .4 .2-.2 .3 0 .3 .7 .2-.7 .2-.5 .3 .3 .3-.1 .2-.1 .2 1.3 .3 .2 .3-1.2 .2 1.5 .2 .1 .3-1.7 .3 .9 .2-.7 .2 .7 .3-2 .3 2" stroke="#c8242e" stroke-width="2.7"/>
<path d="M454.6 387.6l.9 -.5 .9 -1.9M460.3 384.7l.9 -.6 .9 -.1M466.2 382.4l1 -.1 1 -.4M472.3 382l.8 0 .8 .4M477.9 381.7l.8 -.3 .8 0M482.7 381.8l.8 .4 .8 -.6M487.5 382.5l.8 -.4 .8 .3M493.4 383.3l.9 -.1 .9 .1M499.1 384.7l1 -.2 1 .5M504.6 385.6l.8 .1 .8 .3M510.4 385.5l.8 .5 .8 .5M515.4 386.8l.8 .3 .8 0M521.2 387.3l1.1 -.2 1.1 -1M526.9 386.8l.7 .6 .7 0M532.4 388.5l.7 .1 .7 .2M537.8 388.7l.8 .6 .8 .3M542.9 391l1 -.6 1 1.1M547.9 390.1l.7 .2 .7 .3M553.6 391.4l.9 0 .9 -.4M558.2 391l.9 -.3 .9 -.2M563.7 390.9l.9 -.1 .9 0M569.5 389.9l1 -.2 1 -.4M575 389.3l1 .1 1 .4M579.8 389l.9 .2 .9 0M584.6 388.5l.8 .7 .8 -.1M589.4 386.4l.8 1 .8 .3M595.3 386.3l.8 0 .8 -.2M600.5 385.4l.9 .3 .9 -.8M606.5 383.2l.8 -.7 .8 -.7M612.3 379.3l.9 -.6 .9 -.2M618 375.2l1 -.6 1 -.2M623.1 372l1 -1 1 .1M627.5 368.2l1.1 -.6 1.1 -1M633.2 360.5l.9 -.4 .9 -1.2M638.5 355.4l.9 -.7 .9 -1.1M643.8 350.5l.8 -.7 .8 -1.2M649.6 345.9l.9 -1.6 .9 -1.4M655.2 337l.9 -1.1 .9 -1.5M660.4 331.1l.9 -1.8 .9 -1M665.4 325.5l1 -1.4 1 -.2M671.1 320.6l.9 -.3 .9 -.5M675.9 317.2l1 -.2 1 -.9M680.7 313.6l.9 0 .9 .5" stroke="#f0b21c" stroke-width="2.9" stroke-linecap="round"/>
<path d="M454.3 391.3l.3-1.4 .2 1 .2-.5 .3-1.6 .3 .4 .2-2.1 .2-.4 .3-1 .3-.1 .2-.8 .2 .4 .3-1.5 .3-.1 .2-.8 .2-.4 .3-.9 .3 .1 .2 .3 .2-.7 .3-1.6 .3-.1 .2-.9 .2-.2 .3-.3 .3-.5 .2 .6 .2-.1 .3-.6 .3-.8 .2 0 .2-.6 .3 .4 .3 .5 .2-3 .2 1.3 .3-.7 .3-.1 .2-.6 .2-1 .3 .5 .3-.4 .2 0 .2 0 .3-.5 .3 1.2 .2-2.3 .2 .3 .3-.8 .3 .5 .2 .7 .2-1.1 .3-.6 .3-.7 .2 .9 .2-.9 .3 .6 .3-1 .2-.2 .2 .1 .3-1.1 .3 1.5 .2-1.5 .2 .9 .3-.1 .3 1.1 .2-1.3 .2-.1 .3-1.1 .3 .1 .2-.3 .2 .5 .3-1 .3 .5 .2 .9 .2-2.2 .3-.7 .3 .4 .2 .2 .2 1 .3-.8 .3 .1 .2-1.3 .2 0 .3-.1 .3-.9 .2 .4 .2-.7 .3-.1 .3-1 .2-.6 .2 1.6 .3-.7 .3-.1 .2 1.1 .2-1.2 .3-.6 .3-1.2 .2 .2 .2-.4 .3-.5 .3 .6 .2-.9 .2-.5 .3-1.2 .3-.4 .2 .5 .2-.9 .3-.8 .3-.1 .2-.6 .2-.6 .3-.3 .3 0 .2-.7 .2-1.1 .3-.6 .3 .1 .2-1.1 .2 .2 .3-.9 .3-1 .2-1.1 .2 .4 .3 .2 .3-.2 .2 .3 .2-1.1 .3-.5 .3-.2 .2-.9 .2 .6 .3-1.8 .3-.4 .2-.5 .2 .5 .3-1.3 .3-.4 .2 .1 .2 0 .3-1.3 .3 .2 .2-1.4 .2 .7 .3-1.9 .3 0 .2-.7 .2-.5 .3 0 .3 .1 .2-1.1 .2 1.1 .3-1.4 .3-.3 .2-1.2 .2-.1 .3 0 .3-1.4 .2-.4 .2-.5 .3-.6 .3 .9 .2-1.2 .2 1 .3-2 .3 .1 .2-.5 .2-.8 .3-1 .3 .4 .2 .1 .2-.8 .3 .5 .3-1.3 .2 1 .2 .8 .3-.8 .3-.3 .2-1.2 .2-.4 .3 .6 .3-1.2 .2 .4 .2-1.2 .3 .4 .3-.4 .2-1.4 .2 1 .3 .2 .3 .1 .2-.3 .2 .3 .3-.9 .3-.4 .2 .7 .2 .6 .3-1.4 .3 .7 .2-1.3 .2-.9 .3 .2 .3-.1 .2 1.1 .2-.6 .3-.2 .3 .2 .2 .6 .2-.8 .3-.5 .3 .4 .2-.6 .2 .8 .3 .1 .3-.4 .2-.6 .2 .3 .3-.7 .3 1.6 .2 .2 .2-1.3 .3-1.5 .3 .3 .2-.6 .2-.1 .3 .8 .3 .2 .2-.2 .2 .8 .3-.7 .3-.7 .2 .5 .2-1.1 .3 .6 .3-.5 .2 .6 .2-.3 .3-.2 .3 .4 .2 .1 .2-.3 .3 .4 .3-1.2 .2 .7 .2 .3 .3-.8 .3-1.4 .2 1.6 .2-.8 .3 .6 .3-.3 .2 .1 .2 .3 .3-.9 .3 .1 .2-1.4 .2 .2 .3 .1 .3 .9 .2-1.3 .2 0 .3 .2 .3-.9 .2-.5 .2-.7 .3 1.4 .3-1.1 .2 .8 .2-.2 .3-1.1 .3 .5 .2-1.7 .2 1 .3-.8 .3 .7 .2-.2 .2-.2 .3-.2 .3-1.1 .2-.6 .2-.2 .3 1 .3-1.2 .2 .3 .2 .1 .3-.6 .3-.5 .2-.8 .2 1.4 .3-.9 .3-.5 .2 .1 .2 .4 .3-1 .3 1.2 .2-.2 .2 .3 .3-.5 .3-.6 .2-.5 .2 .8 .3-.2 .3 1.3 .2-1.1 .2 .3 .3-.4 .3-1.1 .2 1.2 .2-.7 .3-.3 .3 .8 .2 .5 .2-.8 .3-.2 .3-.3 .2 .1 .2 .9 .3-.5 .3-.1 .2-.1 .2-1.9 .3 1.6 .3 0 .2 0 .2-1 .3 .4 .3 .7 .2-.1 .2 .1 .3-.9 .3 .7 .2 .7 .2-.7 .3 .8 .3-.6 .2-.1 .2-1.1 .3 0 .3-.1 .2 .9 .2-.1 .3-1.2 .3-.2 .2 .7 .2 .7 .3-.4 .3 .2 .2-.2 .2 .1 .3-.3 .3 .3 .2 .3 .2-.5 .3 1 .3-1.5 .2 .5 .2-.2 .3 1.2 .3 .1 .2-.8 .2 .3 .3-.4 .3-.3 .2 .4 .2 .7 .3 .3 .3-.5 .2 .6 .2 .5 .3 .3 .3-.7 .2-.7 .2-.5 .3 .8 .3-.2 .2-.1 .2 0 .3 .1 .3 .3 .2 .5 .2-.6 .3 1.4 .3-.3 .2-.7 .2 0 .3 .5 .3-1.4 .2 .1 .2 0 .3-.2 .3 1.1 .2-.5 .2 .3 .3 .1 .3-.1 .2 .9 .2-1 .3-.3 .3-.4 .2 .5 .2 .6 .3 .1 .3 .2 .2-.3 .2 .4 .3 0 .3-.7 .2 .8 .2 .1 .3-.2 .3 .6 .2-.4 .2-.3 .3 .8 .3 .4 .2-1.4 .2 .6 .3 .5 .3 0 .2 .1 .2 .1 .3-1.8 .3 1.1 .2-1.5 .2 .6 .3-.3 .3 1 .2-1.3 .2 1.2 .3-1 .3 2.1 .2-1.6 .2 .3 .3-.7 .3 .4 .2 .8 .2-.5 .3-.8 .3 .3 .2 .1 .2 1.1 .3-.9 .3 .4 .2 .2 .2 .5 .3-1.1 .3-1 .2-.2 .2 1.1 .3-.7 .3-1.3 .2 .5 .2-.1 .3 .3 .3 .6 .2-.2 .2 .4 .3-1.9 .3 1 .2-.4 .2-.4 .3 .9 .3-1 .2 .1 .2 1.6 .3-.4 .3 .3 .2 .3 .2-1.4 .3 1.5 .3-.7 .2 .4 .2 .1 .3-.1 .3-.5 .2 .3 .2-.2 .3 .7 .3-1.8 .2 2.2 .2-1.2 .3 2.1 .3-1.1 .2 1 .2-1.2 .3 1.2 .3-.8 .2-.2 .2-.2 .3-1.8 .3 .6 .2-.1 .2 1.3 .3 0 .3 .9 .2-.3 .2 .6 .3-1.1 .3 .5 .2-.7 .2-.3 .3-.4 .3 .9 .2-.4 .2 .3 .3 .1 .3 .1 .2 2.1 .2-1.4 .3-.6 .3 .2 .2 .3 .2-.8 .3 1.5 .3-1.1 .2 .9 .2-.3 .3-.1 .3 2.1 .2-2.1 .2-.5 .3 .4 .3-.1 .2 1.2 .2-.1 .3-.8 .3 1.4 .2-1 .2-.3 .3 1.1 .3-.3 .2-.8 .2-.2 .3 .6 .3-.1 .2 .7 .2-.2 .3-.7 .3 .2 .2 .4 .2 1 .3-.9 .3 .7 .2-.8 .2 .8 .3-.7 .3 .6 .2-.5 .2 .2 .3 1.4 .3-.3 .2-1.1 .2 1.3 .3-.9 .3 1 .2-1.6 .2 .6 .3-.4 .3 .2 .2-.2 .2 1.7 .3-1.2 .3 .1 .2-.9 .2 1.5 .3-.1 .3-.6 .2-.8 .2 .8 .3-.1 .3-.7 .2 1.8 .2-.9 .3-.8 .3-.1 .2 .8 .2 .4 .3-.4 .3 0 .2-.6 .2 1.2 .3-1.3 .3 .2 .2 0 .2-.2 .3 .3 .3 .4 .2-1.9 .2 1.2 .3 .7 .3 .4 .2-.9 .2 .6 .3-.4 .3 .2 .2-.2 .2 1.1 .3 .3 .3 .4 .2-.6 .2 .2 .3 .6 .3 1.3 .2-1.8 .2 0 .3 .6 .3-1.4 .2-.6 .2 2 .3 .5 .3 .4 .2-.3 .2 .1 .3-1.1 .3 .7 .2-1.2 .2-.3 .3 .5 .3-.5 .2 .3 .2 .3 .3 .2 .3 .3 .2-.5 .2 .3 .3 .3 .3 .4 .2 .2 .2 .3 .3-.2 .3 .1 .2 .1 .2-.5 .3 .2 .3-.6 .2 .6 .2 .6 .3-.9 .3 1.2 .2-.9 .2 1 .3 .2 .3-.7 .2-.5 .2 .3 .3-.4 .3-.4 .2 1.1 .2-1.7 .3 1.7 .3-1.1 .2 1.3 .2-.9 .3 1.1 .3-1.1 .2-.9 .2 2.6 .3-1.5 .3 0 .2-.2 .2-.2 .3 .5 .3-.7 .2 1.8 .2-1.6 .3 .8 .3 .3 .2-.9 .2 .4 .3-1 .3-.1 .2 .2 .2 1 .3 .2 .3-1.1 .2 1.1 .2-1.1 .3 .6 .3 .3 .2-1.4 .2 1.5 .3-.4 .3-.3 .2 1.3 .2-.1 .3 .2 .3-.4 .2-.2 .2-.3 .3 .7 .3-.3 .2 .6 .2 .6 .3 .4 .3-.2 .2 0 .2-.2 .3 .5 .3 .1 .2-1 .2-.2 .3-.5 .3 .5 .2 0 .2 1.2 .3-.3 .3-1.6 .2 .7 .2-.7 .3-.9 .3 1 .2-.6 .2 .6 .3 .1 .3-.6 .2 1 .2-1.1 .3-.3 .3-.8 .2 2 .2-1.6 .3 .6 .3-.3 .2 .1 .2-1.3 .3-.9 .3 1.3 .2-.7 .2 .8 .3 1.3 .3-1.5 .2 1 .2-1.3 .3 2.4 .3-2 .2 .5 .2-.5 .3-.2 .3 .8 .2-.8 .2-.3 .3 .1 .3 .2 .2 .2 .2 0 .3-.3 .3 .1 .2 1.6 .2-1.3 .3 1 .3-1.3 .2 .3 .2-.7 .3-.7 .3 .9 .2 1 .2 .3 .3-.1 .3-1 .2 0 .2-.4 .3 .8 .3 .3 .2-.1 .2-.5 .3 .6 .3-.1 .2 .3 .2-.4 .3 .2 .3-.7 .2 .1 .2-.9 .3 1.6 .3 .3 .2-.3 .2 1.7 .3-.2 .3 .4 .2-1.1 .2 0 .3 .3 .3 .3 .2 .4 .2-1.6 .3 .3 .3-1.1 .2 1.2 .2 .8 .3 .1 .3 .9 .2-1.1 .2-.7 .3-.3 .3 .4 .2 .7 .2-1.6 .3 .1 .3 .5 .2-.2 .2 .7 .3-.8 .3 .3 .2 0 .2 0 .3 .5 .3-1.6 .2-.3 .2 0 .3 .8 .3 .4 .2 .4 .2-.2 .3-.2 .3-1 .2 .5 .2 .6 .3-.8 .3 .6 .2-.1 .2 .5 .3-.7 .3-.4 .2 .8 .2 .1 .3 .8 .3-.8 .2 .3 .2 0 .3-.2 .3 1.6 .2-2.6 .2 1.8 .3-1.1 .3 .8 .2-1.1 .2 1.1 .3-.4 .3 .8 .2 .2 .2-1.3 .3-.1 .3 1.4 .2 .3 .2-1.1 .3-1.3 .3 .3 .2 1.3 .2 .5 .3-.9 .3-.9 .2 1.1 .2-1.5 .3 .4 .3-.1 .2 0 .2 .7 .3-.8 .3 .8 .2 .5 .2 .1 .3-.1 .3-1.1 .2-.8 .2 .9 .3 0 .3 .2 .2-.5 .2 .5 .3-.7 .3 1.1 .2 .4 .2-.7 .3-.1 .3 .2 .2-.1 .2 0 .3-.1 .3-.5 .2 1.1 .2-1.7 .3 1.4 .3-1.3 .2 .7 .2-1.1 .3-.3 .3 .3 .2 0 .2 1.4 .3-1.1 .3 0 .2-.4 .2 .6 .3 0 .3 .2 .2-.7 .2-.3 .3 .6 .3 .4 .2-.1 .2-1 .3 .1 .3 .2 .2-.5 .2-.5 .3 .8 .3-.2 .2 .4 .2 .1 .3-.9 .3-.3 .2 0 .2 .9 .3-.3 .3 .4 .2-.8 .2 .5 .3-.8 .3-.2" stroke="#f0b21c" stroke-width="2.6"/>
<path d="M455.3 643.7l1 0 1 -.2M460.6 644l1 -.2 1 -.1M466.7 643.3l.9 .1 .9 .1M471.3 642.9l1 .2 1 0M477.4 642.4l.8 .5 .8 -.2M483.3 644.4l.9 .1 .9 .6M489.2 645.7l.8 -.5 .8 0M494.2 645.5l1 .2 1 0M499.9 645.7l.8 .7 .8 0M504.4 646l.9 .3 .9 .8M510.3 644.8l.7 1.2 .7 -.3M514.9 646l.7 -.5 .7 0M519.7 645.6l1 0 1 .2M525.3 645.4l.7 .2 .7 .6M530.6 646.9l.8 -.9 .8 .2M534.9 646.3l1 0 1 .2M540.1 644.6l1 .3 1 .2M545 643.7l.7 .7 .7 .5M550.3 643.8l1 -.8 1 -.7M555.9 641l.7 -.3 .7 .3M561.2 640.8l1 -.4 1 -.3M566.2 640.1l1 -.6 1 -.6M571.5 640l.9 .2 .9 -.2M577.5 637.9l.8 -.6 .8 .2M582.8 635.2l1 -.6 1 .1M588.8 634.3l.8 0 .8 -1M594 633.2l.8 .2 .8 -.3M598.6 631.7l.8 -.3 .8 .6M604.4 627.2l1 -1 1 -.5M609.5 621.8l.9 -1.1 .9 -.9M613.9 617.3l1.1 -.3 1.1 -1.7M618.7 613.2l.9 -.1 .9 -.2M623.3 606.9l1 -.8 1 -1.9M628 602l1 -.6 1 -.4M632.8 597l.8 -1.3 .8 -.4M638.8 586.6l.8 -.9 .8 -1.5M644.1 577.9l.8 -.5 .8 -.4M648.6 571.6l.9 -.7 .9 -.8M653.3 566l.9 -.7 .9 -1.5M659.3 558.2l.8 -1 .8 -.1M664.8 550.7l.9 .1 .9 -1.3M669.7 546.9l1 -1.6 1 -1.3M674.3 540l.9 -.4 .9 -.6M679.7 533l.8 -.1 .8 .3" stroke="#3ba30a" stroke-width="2.9" stroke-linecap="round"/>
<path d="M454.3 645.3l.3-1.6 .2 .7 .2-1.8 .3 1.1 .3-1.3 .2 .1 .2-.4 .3-.3 .3-.4 .2-.8 .2-1 .3-1.3 .3-.9 .2 .5 .2-.7 .3-.8 .3-.2 .2 0 .2-.5 .3-1.5 .3-.9 .2-.9 .2 .3 .3-.2 .3-.6 .2 .8 .2 .1 .3-1.7 .3 .4 .2-1 .2 0 .3-.5 .3-.5 .2 .1 .2-.4 .3-1 .3 .1 .2-1 .2 .1 .3-.2 .3-.3 .2-1.5 .2 .8 .3-1.3 .3 .4 .2-.3 .2-1.4 .3-.1 .3 .3 .2-.4 .2-1.7 .3 1 .3-1.3 .2-.6 .2 .3 .3-.9 .3 .2 .2-.2 .2 .7 .3-1.2 .3-.9 .2-.7 .2-.5 .3-.4 .3-1.1 .2 0 .2-1.2 .3-.3 .3-.2 .2 0 .2-.5 .3-2.5 .3 1.8 .2-1.1 .2-.2 .3 .1 .3-1.8 .2-.7 .2-1 .3 0 .3 .7 .2-1.1 .2-.5 .3 .3 .3-1.1 .2-.1 .2-.5 .3 .4 .3-.9 .2-.3 .2-.1 .3-1.3 .3 .6 .2-1.2 .2 .3 .3 .2 .3 .4 .2-.4 .2 .6 .3-.9 .3-.1 .2-.8 .2-.6 .3 .9 .3-2.2 .2 1.2 .2-1.8 .3 .5 .3-1.7 .2 .4 .2-.8 .3-1.7 .3 .3 .2 .1 .2-.1 .3-.9 .3-1.2 .2-.4 .2-1.2 .3-.2 .3 .2 .2-.5 .2 .1 .3-.8 .3-.2 .2-.6 .2-.2 .3 .5 .3-2.3 .2 .2 .2-.9 .3 .2 .3-.4 .2-1 .2 .1 .3-.3 .3-.4 .2 0 .2 .2 .3-.7 .3-.7 .2-.2 .2 .6 .3-1.8 .3 .4 .2-1.5 .2-.8 .3 0 .3 .1 .2-.6 .2-.7 .3-.6 .3-.6 .2-.7 .2-.1 .3-1.3 .3 1.2 .2-.4 .2-.3 .3-.1 .3-1.5 .2-.1 .2-1.9 .3 1.2 .3-.7 .2 .3 .2-.4 .3-.9 .3-1 .2 .5 .2-.2 .3-.3 .3-1.2 .2-.8 .2-.3 .3-.8 .3-.9 .2 1 .2-.4 .3-.1 .3-1.4 .2-.2 .2-1.1 .3-.7 .3 .5 .2-1.4 .2 .5 .3 1 .3-.9 .2-.8 .2-.8 .3-.8 .3-.8 .2 .8 .2-1.6 .3-.6 .3 .1 .2-.9 .2 .3 .3-1.6 .3-.5 .2-.2 .2 .7 .3-.7 .3-.8 .2-.8 .2-.3 .3-1.2 .3 .3 .2-1 .2 .1 .3-.7 .3-.1 .2-.9 .2 .3 .3-.8 .3-1 .2 .2 .2-.9 .3 0 .3-.2 .2-1.1 .2-.2 .3-.3 .3-.3 .2 .5 .2-1.3 .3-1.2 .3 .3 .2-.8 .2 1.2 .3-1.9 .3-.6 .2 .3 .2-1 .3-.2 .3-.4 .2-.7 .2-.2 .3-1.2 .3 .9 .2 .1 .2 .5 .3-1.4 .3 .1 .2-1.2 .2 .8 .3-.1 .3-1.4 .2-.8 .2-.5 .3 .5 .3-2 .2 .9 .2-1.8 .3-.1 .3 .2 .2 0 .2-.2 .3-.2 .3-1.7 .2 .2 .2 0 .3-.5 .3 .1 .2-1.1 .2-.7 .3-1.3 .3-.1 .2 1.3 .2-1 .3 .8 .3 .1 .2-.5 .2 .6 .3-1.1 .3 .5 .2-.6 .2-.7 .3-.3 .3 1.1 .2 1.1 .2 0 .3-.4 .3 0 .2 0 .2-.7 .3 .6 .3-.4 .2-.5 .2 2.2 .3-1.8 .3-.7 .2-.1 .2-1.1 .3-.1 .3 1.4 .2-.9 .2-1 .3-.7 .3 .7 .2-.8 .2 1.4 .3-2.1 .3 1.5 .2-1.5 .2-.3 .3 .4 .3-.9 .2 .1 .2-.3 .3-1 .3 .4 .2 .6 .2-1.4 .3 .5 .3 .1 .2 1.2 .2-.1 .3 .3 .3-1.5 .2 .6 .2-.6 .3-.9 .3 .7 .2-.5 .2-.6 .3-.4 .3-.4 .2 1.1 .2-.2 .3-.5 .3-.2 .2-.3 .2 .5 .3-.5 .3-1.2 .2 .8 .2-.1 .3-.6 .3 0 .2-.3 .2 .5 .3-.6 .3 .3 .2-.3 .2 .9 .3-1.9 .3 2 .2-2.2 .2 .5 .3-.5 .3 .7 .2 .3 .2 .9 .3-.7 .3-1.1 .2 .1 .2-.2 .3-.5 .3 .5 .2-.5 .2-.4 .3-.5 .3 .6 .2-.6 .2 .4 .3-.8 .3-1.4 .2-1.1 .2 .6 .3-.7 .3-.3 .2-.2 .2 1.1 .3-1 .3 .8 .2-1 .2-1.4 .3 .7 .3 .2 .2-1.8 .2 .1 .3 .6 .3-.2 .2 1.5 .2-1.5 .3 1.4 .3-1.8 .2 .5 .2 .6 .3 .4 .3 .1 .2 1 .2 .1 .3 .3 .3-1.3 .2 .6 .2-.9 .3 1 .3-2.1 .2 1 .2 .4 .3 0 .3 1.3 .2-1.7 .2 .5 .3-.3 .3 1 .2-.2 .2 1 .3-.1 .3-1.3 .2 .1 .2 1.5 .3 .1 .3-.9 .2 1 .2-.7 .3 1.4 .3-1 .2 .6 .2 .8 .3 0 .3 .6 .2-.3 .2-1 .3 1 .3-.6 .2 1.7 .2 .3 .3 0 .3 .6 .2-.8 .2 .3 .3-.4 .3-.1 .2 0 .2-.5 .3 .6 .3-1.8 .2-.2 .2 .2 .3 1.3 .3-1 .2-.2 .2-.2 .3 .8 .3-.3 .2 .8 .2-1 .3 .7 .3-.9 .2 .8 .2 1.2 .3-1.6 .3-.1 .2 .3 .2-1 .3 .3 .3-.1 .2 .7 .2-.8 .3 1.8 .3-.7 .2 .3 .2-.4 .3 .4 .3-1.2 .2 2.2 .2-1.1 .3 1.2 .3-.5 .2 .3 .2 .4 .3 .6 .3-.8 .2-.5 .2 .3 .3-1.7 .3 .9 .2-.2 .2 .6 .3-.6 .3 1.3 .2-.6 .2 .3 .3-.3 .3-.1 .2-.1 .2 1.2 .3-.3 .3 .5 .2-.9 .2 .1 .3 0 .3-.4 .2 .1 .2-.9 .3 .3 .3 .3 .2 .2 .2 1.2 .3 .1 .3 .4 .2-.1 .2 .9 .3 0 .3 .1 .2-.5 .2 1 .3-1.6 .3 .1 .2 .2 .2 1.5 .3-.5 .3-.1 .2-1.1 .2 1.1 .3-.2 .3-.2 .2 2 .2-.4 .3 1 .3-.8 .2 .5 .2-.8 .3 .9 .3-.5 .2 .6 .2-.2 .3-.6 .3 .6 .2 .1 .2-.2 .3 .5 .3 .6 .2 .1 .2-.5 .3-1.2 .3 1.5 .2 .6 .2-1 .3-.4 .3 .6 .2-.1 .2 .5 .3-.8 .3 1.2 .2-.5 .2-1.1 .3 1 .3-.7 .2 .5 .2-.3 .3-.3 .3 0 .2-.5 .2-.3 .3 .3 .3-.1 .2 .3 .2-.1 .3-1 .3 1.3 .2-.5 .2 .6 .3-.2 .3-.5 .2 .2 .2-1.1 .3 1.6 .3 0 .2-.6 .2-.8 .3 .5 .3-.7 .2 .9 .2-1.3 .3-.4 .3 .1 .2 0 .2 1 .3-.3 .3 .4 .2-.4 .2 1 .3-.5 .3 .3 .2 .7 .2-.6 .3-.2 .3 .2 .2 .7 .2-.1 .3-.6 .3 .9 .2-1.4 .2-.4 .3 .6 .3-.2 .2 1.2 .2 .2 .3 0 .3 0 .2-.4 .2 1.3 .3-1.5 .3 1.6 .2-.2 .2-.2 .3 .4 .3-1.1 .2 1.6 .2-.5 .3 .6 .3-1.9 .2 1.1 .2-.4 .3-1 .3 .9 .2 .3 .2-.3 .3 .6 .3-.1 .2-.5 .2-.2 .3 .5 .3-.9 .2 .7 .2 .2 .3-.8 .3 .2 .2-.6 .2 .3 .3-1.5 .3-.2 .2 .5 .2 .4 .3 1.1 .3 .4 .2-.4 .2 .3 .3-1.2 .3 .1 .2-.6 .2 1.5 .3-.5 .3-.3 .2-.8 .2 .1 .3 .8 .3-.2 .2 .5 .2-.7 .3-.6 .3-.2 .2 .8 .2 .9 .3 .3 .3-1.5 .2 .6 .2-1 .3 .6 .3-1.7 .2 1.5 .2-.5 .3 2.2 .3-.7 .2 .7 .2-.1 .3-.5 .3 1.3 .2 .5 .2-.1 .3 .3 .3 .3 .2-.3 .2-.5 .3-.9 .3 .5 .2 .2 .2 1 .3 .5 .3-.9 .2 .5 .2-2.2 .3 1.5 .3-.9 .2 1.4 .2 .2 .3 0 .3-.1 .2-.1 .2 .4 .3-1.5 .3 .9 .2-1.2 .2-.4 .3 .9 .3 .1 .2-.1 .2-.5 .3 .8 .3-.4 .2 1.6 .2-1.1 .3 .2 .3-.5 .2 .6 .2 .6 .3-1.4 .3 .2 .2-.7 .2 1 .3 1 .3-1.3 .2 .5 .2-.4 .3 .5 .3-.3 .2 .5 .2-.2 .3 .9 .3 .4 .2 .3 .2-1.3 .3 1.9 .3-.4 .2 .5 .2-1 .3 .4 .3 .6 .2 .9 .2-1.3 .3 .7 .3 .1 .2-.2 .2 .6 .3-.5 .3 1.2 .2-1.6 .2 1.2 .3-.5 .3 .1 .2-.3 .2-1 .3 2.6 .3-.4 .2 .1 .2-.4 .3 0 .3-.3 .2 .1 .2 .5 .3-1 .3-.3 .2 1.2 .2-1.3 .3 .4 .3-.4 .2 .4 .2-.2 .3-.4 .3-.8 .2 .1 .2 .3 .3 1 .3-1.9 .2 .8 .2 .2 .3-.5 .3 .5 .2-.1 .2 .5 .3 .5 .3-1.1 .2 .3 .2-.1 .3-.3 .3-.2 .2-1.3 .2 1.2 .3-.6 .3 .5 .2 .4 .2 .2 .3-.6 .3-.1 .2 .2 .2-.2 .3 1.4 .3 .3 .2-.9 .2 .8 .3-.5 .3-.9 .2 1 .2-.3 .3-.2 .3-1.2 .2 .4 .2-.9 .3 1.3 .3-.2 .2-.2 .2-.2 .3 1.5 .3-1.4 .2 1.4 .2-.6 .3 .7 .3-1.5 .2 .9 .2 .3 .3-.8 .3-.8 .2-.3 .2 .8 .3 1 .3 .5 .2-.7 .2 .4 .3-.2 .3-.2 .2-1 .2 .7 .3-.9 .3 .7 .2 .3 .2 .3 .3-.5 .3 .7 .2 .1 .2-.3 .3-.6 .3 0 .2-.1 .2 .1 .3 .4 .3 .3 .2-.6 .2 .4 .3-.4 .3 0 .2-.6 .2 .7 .3-.1 .3 .4 .2 .5 .2-.2 .3-.1 .3-.8 .2-.6 .2 .6 .3 .4 .3 .3 .2 .8 .2-.6 .3 .5 .3-1.1 .2-.5 .2 .8 .3-1.2 .3-.2 .2 .5 .2 .5 .3 .6 .3-.7 .2 .2 .2-.8 .3-1.1 .3 .1 .2-.6 .2 .7 .3-1.1 .3 .5 .2 .3 .2 1 .3-.1 .3-.5 .2 .4 .2-.4 .3 1.4 .3-2.6 .2-.3 .2-.2 .3 .6 .3 .7 .2 .9 .2-.5 .3 .1 .3-.1 .2 .3 .2-.5 .3 .9 .3-.3 .2 .4 .2 .2 .3 0 .3 .2 .2-1 .2 .6 .3-1.1 .3-.1 .2 1 .2 .7 .3 .4 .3 0 .2 .3 .2-1.4 .3 .7 .3 .2 .2 0 .2 .8 .3 .2 .3 0" stroke="#3ba30a" stroke-width="2.7"/>
<path d="M455.9 915.2l.7 1.2 .7 -.3M461.3 915.8l1 .3 1 -.7M466.9 916.1l1 -.8 1 -.3M472.3 912.7l.8 0 .8 -.1M476.5 912.6l1.1 -.3 1.1 -.9M481.5 908.8l.9 .5 .9 -.3M486.2 907l1.1 -.2 1.1 .2M491.7 907.8l1 -.3 1 .5M496.5 906.4l.9 -.2 .9 .4M501 905.4l.8 -.3 .8 0M505.2 903.4l.9 -.6 .9 -.7M510.4 901.3l.8 -.8 .8 -.2M515.8 898.3l1 -.3 1 .5M520.4 896.6l.9 .1 .9 -.2M524.9 895.1l.9 -.4 .9 -.9M529.1 893.7l1 -.3 1 -.3M534.5 894l.8 -.7 .8 -.1M538.9 893.4l.9 0 .9 .1M543.9 889.6l.9 -.1 .9 -.4M549.7 888.5l.8 0 .8 -.2M554.4 888l.9 .6 .9 -.1M558.8 887.3l.9 -.4 .9 .5M564.4 885.4l.9 -.2 .9 -.6M570 884.5l.9 .1 .9 -.1M575.2 882.6l1 -.1 1 -.7M579.7 880l1 -.5 1 -.8M584.2 876.5l.9 .1 .9 -.4M589.3 874.5l.8 .1 .8 0M594.9 871.4l.9 -.6 .9 -.6M600.2 865.3l.9 .4 .9 -.6M604.6 860.3l.9 -1.6 .9 -1M609.4 850.6l.8 -1 .8 -.8M614.3 843.9l1 .3 1 -.9M619.5 844.4l1 -.4 1 -.2M625.3 838.1l.7 -1.2 .7 -1.8M630.7 826.7l1 -.8 1 -.6M635.8 820.4l1 -.6 1 0M640.9 817.1l1 -1.6 1 -.5M646 812.3l.8 -1.2 .8 .5M651.3 803.1l.7 -1.5 .7 -.2M656.5 792l.8 -1.1 .8 -1.3M662.2 778l.7 -1.2 .7 -1M667.2 766.9l1 -.3 1 -.1M672.9 765.2l.8 -.9 .8 -.6M677.4 762.2l.8 -.3 .8 -.6M681.6 760.8l1 -.9 1 -.9" stroke="#0030b0" stroke-width="2.8" stroke-linecap="round"/>
<path d="M454.3 911.8l.3 1.4 .2-2.2 .2-.4 .3-.4 .3-.3 .2-2.1 .2-.2 .3-.7 .3-1.3 .2-1.4 .2 0 .3-.5 .3-.2 .2-1.6 .2-3 .3 .9 .3-1.1 .2-1.2 .2-.8 .3-.9 .3-1.9 .2-1.6 .2-.4 .3-.3 .3-1.8 .2-.8 .2-1.5 .3 .4 .3-1.9 .2 0 .2-1.1 .3 .9 .3-1 .2 .1 .2-2.8 .3-1.1 .3-.1 .2-1.6 .2 0 .3 .1 .3-1 .2-.2 .2-1.8 .3-.5 .3-.4 .2 .1 .2-.5 .3-.7 .3-1.5 .2-1.4 .2-.7 .3-.5 .3-1.9 .2-.2 .2-1.2 .3 .7 .3-.6 .2-1.4 .2 .5 .3-1.3 .3-.9 .2-.4 .2-1 .3-1.8 .3-.5 .2-1.2 .2 .8 .3-1.1 .3 0 .2-1.7 .2-.9 .3 .8 .3-.6 .2-2.1 .2 1.1 .3-1.9 .3 .9 .2-1.5 .2-1.5 .3-1 .3-.8 .2-2.8 .2 1.6 .3-1.9 .3 .1 .2-3.5 .2 1.3 .3-1.3 .3-1.5 .2 1 .2-1.8 .3-1.9 .3-.8 .2 0 .2 0 .3-1.4 .3-1.6 .2 .6 .2-2.5 .3 .5 .3-1.6 .2-1.4 .2-1.4 .3-.8 .3-.5 .2 .1 .2-1.7 .3-1.3 .3 .6 .2-.9 .2-1.3 .3 .2 .3-1.5 .2 .4 .2-2 .3-.9 .3-.4 .2-.1 .2-.4 .3-1 .3-.4 .2-.7 .2 .3 .3 1.2 .3-1.3 .2-.7 .2 .1 .3-.2 .3 .7 .2-.5 .2 1.5 .3-1.2 .3 .5 .2 1.2 .2-.9 .3 .9 .3-.9 .2 .5 .2 .7 .3-2.4 .3 .7 .2-1.7 .2 .5 .3-1 .3 0 .2-1.3 .2-1 .3 1.4 .3-.6 .2 .5 .2-1.3 .3-.6 .3-1.2 .2-.9 .2 .7 .3-1.1 .3 1.5 .2-.4 .2-1 .3-.2 .3-1.3 .2-.9 .2 1.5 .3-2.4 .3 .5 .2-2.2 .2 .1 .3-.5 .3-2.4 .2-.6 .2-.2 .3-.4 .3-.3 .2-1.2 .2-.7 .3-.8 .3-.6 .2 .3 .2-1.3 .3-1 .3-.8 .2-.3 .2-1 .3 .6 .3-.4 .2-1.6 .2 .1 .3-.5 .3 .4 .2-1.6 .2-.2 .3-1.1 .3 0 .2-.1 .2 2.4 .3-1.8 .3-1 .2-.8 .2-1.6 .3-.1 .3 .9 .2-.7 .2 .5 .3-1.2 .3 0 .2-.8 .2 0 .3-.6 .3 0 .2-1.6 .2-.2 .3-.7 .3 .2 .2 0 .2-.5 .3-1.6 .3 .7 .2 0 .2 .3 .3 0 .3 .3 .2 1.1 .2-.2 .3 .6 .3-2.2 .2 .4 .2-.2 .3 1.7 .3-.3 .2-.8 .2-.1 .3 .5 .3 .5 .2 0 .2-1.8 .3 .9 .3-1 .2 1.1 .2 .4 .3-1.9 .3-.3 .2-2.9 .2 1.7 .3-1.9 .3 .6 .2 .8 .2-1.9 .3 2.5 .3-2.5 .2 .7 .2-1.5 .3 .5 .3-1.5 .2 .1 .2-2 .3 2 .3-.6 .2-1 .2-.5 .3-1 .3 0 .2 .4 .2-.2 .3 .1 .3-.1 .2-.4 .2-.9 .3-.4 .3-.9 .2 .5 .2-1.8 .3-.6 .3 .3 .2-1.8 .2 .4 .3-1 .3 0 .2 2.7 .2-4 .3 1.3 .3-2 .2-.6 .2-.9 .3 1.1 .3-.9 .2-.2 .2 .4 .3-2.5 .3-.8 .2 1 .2 .7 .3-1 .3 .5 .2-.7 .2-.8 .3-1.1 .3 .3 .2 .5 .2-.5 .3-.5 .3 .1 .2-.4 .2 .7 .3-.8 .3 1.4 .2-1.1 .2-.3 .3-1.4 .3-.4 .2 1.6 .2-.1 .3 1.7 .3-1.8 .2-.4 .2 1 .3-2.1 .3 1.1 .2-1.3 .2-.9 .3 .5 .3 1.2 .2 .2 .2 0 .3-.5 .3 .7 .2 .4 .2 .1 .3 1.1 .3-.5 .2-1.2 .2 .2 .3-.1 .3 1.2 .2 .8 .2 .6 .3-1 .3-.7 .2-.2 .2-.4 .3 2.3 .3-1.2 .2 0 .2 1.4 .3-1.7 .3 .1 .2 0 .2-1.4 .3 .2 .3 2.8 .2-2 .2-1.7 .3 .6 .3 .1 .2 .4 .2-.6 .3-.8 .3 .6 .2 .5 .2-1.3 .3-.8 .3 0 .2-.9 .2 2.4 .3-.6 .3-.1 .2-.2 .2 .5 .3-1.3 .3-1.2 .2 1.1 .2-2.6 .3 1.1 .3 .4 .2-.1 .2-1.7 .3-.9 .3-.9 .2-.8 .2-.7 .3 .4 .3-1.4 .2 .1 .2-1.7 .3-1.2 .3-.8 .2 1.1 .2-2.6 .3 .7 .3-2.1 .2 .6 .2-1.2 .3-.5 .3-.7 .2-.1 .2 .3 .3 .5 .3-1 .2-1.6 .2 .4 .3-2.4 .3 1.1 .2 1.1 .2-3.4 .3 1.2 .3 .4 .2 .4 .2-.6 .3-1.5 .3 1 .2-.5 .2-1.6 .3-.1 .3-1 .2 .2 .2 1.1 .3-1.8 .3 1.6 .2-.8 .2 .1 .3-.9 .3 .9 .2-.9 .2 0 .3-1 .3 1.2 .2-.2 .2 1.1 .3-.4 .3-.1 .2-.3 .2 .2 .3 0 .3 1.1 .2-1.2 .2 .4 .3 1.4 .3 1.1 .2-.3 .2-.3 .3 1.6 .3-1.2 .2-.5 .2 .4 .3 .6 .3-1 .2 .8 .2-.9 .3 .1 .3 0 .2-2 .2 2.5 .3-.6 .3 0 .2-.2 .2-.4 .3 1.1 .3-1.1 .2 .9 .2-1.9 .3 2.7 .3-1.3 .2 .3 .2-.9 .3-.1 .3 1.2 .2-2.3 .2 3.4 .3-1.2 .3 .7 .2 .7 .2 1.7 .3-1 .3 .7 .2-1.5 .2 .5 .3 .9 .3-1.2 .2-.9 .2 1.5 .3 .5 .3 .5 .2 .8 .2 .2 .3-.6 .3 .7 .2-.5 .2 .4 .3-.7 .3 1.4 .2-.7 .2 1.4 .3-2 .3 2 .2-1.8 .2 1.3 .3-1.1 .3 .2 .2 1.2 .2-1.3 .3 2 .3 .7 .2-.7 .2-1.7 .3 1.4 .3-.6 .2 .5 .2 0 .3 .8 .3 .6 .2-1 .2 1 .3-1.6 .3 1.9 .2-2.4 .2 0 .3 .5 .3 .8 .2 .3 .2-1.7 .3 1.5 .3 .1 .2 1.7 .2-2.1 .3-.8 .3-.2 .2 1.2 .2 .7 .3 0 .3 0 .2-.4 .2 .8 .3 .2 .3 1.9 .2-1.8 .2-.6 .3 .1 .3 .3 .2-1.1 .2 1.6 .3 .1 .3 .2 .2-.7 .2 .7 .3 .4 .3 .4 .2-.2 .2-1 .3 1.3 .3 .4 .2-1.1 .2-1.6 .3 2.3 .3 .2 .2-.4 .2-.2 .3 1.1 .3-.2 .2-.4 .2 .1 .3 .3 .3 .7 .2-.5 .2-.7 .3 .6 .3 .8 .2 .6 .2-.3 .3 1.3 .3-.5 .2 1.6 .2 .8 .3-.2 .3-.5 .2 .6 .2-1.8 .3 2.7 .3-1.4 .2 .2 .2 .5 .3-.1 .3 .9 .2 .1 .2 .5 .3 1 .3-.4 .2-.6 .2 .5 .3-.5 .3 1.5 .2-1.1 .2 .6 .3 1.5 .3-1.2 .2 .3 .2 .1 .3-1.4 .3 1.2 .2 .5 .2-.7 .3 .2 .3-1.4 .2 .4 .2-.7 .3 .1 .3-1.2 .2 .3 .2 .7 .3-.6 .3 .8 .2 .6 .2-.7 .3-.2 .3 .3 .2-1.1 .2 .4 .3-.1 .3 .4 .2 2.1 .2-1.5 .3 .8 .3-.2 .2 .2 .2 .3 .3 .2 .3 .5 .2-.3 .2 .6 .3-.4 .3 .1 .2 0 .2 1.3 .3-2 .3 .8 .2 .3 .2-.2 .3-1 .3-.1 .2 .6 .2 .9 .3-.3 .3-.6 .2-.3 .2-.2 .3-.1 .3-.9 .2 .2 .2 .9 .3 1.2 .3-1.1 .2-1.4 .2 .1 .3 .7 .3-.6 .2 .8 .2-.8 .3 .1 .3-.4 .2 1.2 .2 0 .3 .2 .3 .2 .2-.7 .2 .9 .3-1.7 .3 1.2 .2-1 .2 .1 .3-.2 .3 1 .2-.3 .2 .7 .3-1.5 .3 .9 .2-.7 .2 1 .3 .7 .3-1.5 .2 1.5 .2-1.4 .3 1.9 .3-1 .2 .5 .2-1.2 .3 1.9 .3-1.1 .2-.1 .2 .9 .3-1.2 .3 .4 .2 0 .2 0 .3 1.3 .3 .6 .2-1.5 .2 1.6 .3-.3 .3-.7 .2 .6 .2 .8 .3-1.8 .3 .3 .2-.4 .2 2.2 .3-.6 .3-1.1 .2 .3 .2 .6 .3-.5 .3 1.1 .2-.8 .2 .9 .3-.8 .3-.1 .2-.6 .2 .5 .3 .3 .3-1.5 .2 1.5 .2 .4 .3-.2 .3-.6 .2-.6 .2-.8 .3 0 .3 .3 .2-.5 .2 .8 .3-.3 .3 .2 .2 1 .2-.8 .3 .3 .3-1.8 .2 1.6 .2-1.2 .3 1.7 .3-2 .2 .7 .2 .9 .3 .9 .3-2.3 .2 1 .2-.3 .3 1.8 .3 .6 .2-1.1 .2 .3 .3-1 .3-.3 .2 1.2 .2-.5 .3 1.2 .3-.6 .2 1.2 .2-.9 .3 .3 .3 .8 .2-.5 .2 .8 .3-1.2 .3-.1 .2 1.1 .2-.3 .3-.7 .3-.4 .2 .3 .2 .3 .3-.1 .3-.5 .2 .2 .2 1.1 .3 .3 .3 .2 .2-1.5 .2-.4 .3 1 .3-.5 .2 .7 .2 0 .3-1 .3 0 .2-.9 .2 .3 .3 1.4 .3 1 .2-2.3 .2 .3 .3 .4 .3 1.1 .2-1.3 .2 1.3 .3 .9 .3-2 .2 1.1 .2 1.2 .3 .8 .3-.9 .2 1.1 .2 .2 .3-1.3 .3 .9 .2-.2 .2 .4 .3 .4 .3-.8 .2-.5 .2 .4 .3 .2 .3 1 .2 .8 .2-.9 .3 0 .3 0 .2 .9 .2-.7 .3 .1 .3-.7 .2 .5 .2-.3 .3 1.1 .3-.8 .2 .7 .2-.8 .3-.2 .3-1.6 .2 1 .2-.6 .3 1.4 .3-.5 .2 .2 .2-.7 .3 1 .3-2.3 .2 1.7 .2-.9 .3-.3 .3 .2 .2 .5 .2 .3 .3 .6 .3-1.1 .2 0 .2 1.1 .3 .1 .3-1.4 .2 .2 .2 .6 .3-.3 .3 .7 .2-.8 .2 .3 .3 2.6 .3-1.2 .2 .4 .2-.9 .3-.6 .3 1.2 .2 .2 .2-1 .3 0 .3 .4 .2-.3 .2-.8 .3 1.4 .3 .4 .2-1.6 .2 2.4 .3-2.1 .3 .2 .2 .2 .2 .7 .3 .2 .3-.9 .2 1.2 .2 .2 .3-.7 .3-1.1 .2 1 .2 .3 .3 1.3 .3-.4 .2 .8 .2 1.6 .3-1.8 .3 0 .2 .7 .2 .3 .3 0 .3-1.1 .2-1 .2-.5 .3 .6 .3 .4 .2-.4 .2-.1 .3 .9 .3 .2 .2 .2 .2 1.7 .3-.4 .3-1.4 .2 1.4 .2-.8 .3 0 .3 .2 .2 2.3 .2-1.8 .3-.3 .3 .4 .2 .8 .2-.3 .3-.2 .3-.6 .2 .2 .2-.3 .3 1.2 .3 .5" stroke="#0030b0" stroke-width="2.4"/></g>
<g stroke="#231815" stroke-width="2.5" fill="none" stroke-linecap="butt">
<rect x="91.10" y="20.50" width="230.10" height="920.52"/>
<path d="M91.10 250.63H321.20M114.11 250.63v-17.9M137.12 250.63v-9.1M160.13 250.63v-17.9M183.14 250.63v-9.1M206.15 250.63v-17.9M229.16 250.63v-9.1M252.17 250.63v-17.9M275.18 250.63v-9.1M298.19 250.63v-17.9M91.10 225.21h9.1M91.10 199.64h17.9M91.10 174.07h9.1M91.10 148.50h17.9M91.10 122.93h9.1M91.10 97.36h17.9M91.10 71.79h9.1M91.10 46.22h17.9M91.10 480.76H321.20M114.11 480.76v-17.9M137.12 480.76v-9.1M160.13 480.76v-17.9M183.14 480.76v-9.1M206.15 480.76v-17.9M229.16 480.76v-9.1M252.17 480.76v-17.9M275.18 480.76v-9.1M298.19 480.76v-17.9M91.10 455.34h9.1M91.10 429.77h17.9M91.10 404.20h9.1M91.10 378.63h17.9M91.10 353.06h9.1M91.10 327.49h17.9M91.10 301.92h9.1M91.10 276.35h17.9M91.10 710.89H321.20M114.11 710.89v-17.9M137.12 710.89v-9.1M160.13 710.89v-17.9M183.14 710.89v-9.1M206.15 710.89v-17.9M229.16 710.89v-9.1M252.17 710.89v-17.9M275.18 710.89v-9.1M298.19 710.89v-17.9M91.10 685.47h9.1M91.10 659.90h17.9M91.10 634.33h9.1M91.10 608.76h17.9M91.10 583.19h9.1M91.10 557.62h17.9M91.10 532.05h9.1M91.10 506.48h17.9M114.11 941.02v-17.9M137.12 941.02v-9.1M160.13 941.02v-17.9M183.14 941.02v-9.1M206.15 941.02v-17.9M229.16 941.02v-9.1M252.17 941.02v-17.9M275.18 941.02v-9.1M298.19 941.02v-17.9M91.10 915.60h9.1M91.10 890.03h17.9M91.10 864.46h9.1M91.10 838.89h17.9M91.10 813.32h9.1M91.10 787.75h17.9M91.10 762.18h9.1M91.10 736.61h17.9"/>
<rect x="453.85" y="20.50" width="230.10" height="920.52"/>
<path d="M453.85 250.63H683.95M476.86 250.63v-17.9M499.87 250.63v-9.1M522.88 250.63v-17.9M545.89 250.63v-9.1M568.90 250.63v-17.9M591.91 250.63v-9.1M614.92 250.63v-17.9M637.93 250.63v-9.1M660.94 250.63v-17.9M453.85 225.21h9.1M453.85 199.64h17.9M453.85 174.07h9.1M453.85 148.50h17.9M453.85 122.93h9.1M453.85 97.36h17.9M453.85 71.79h9.1M453.85 46.22h17.9M453.85 480.76H683.95M476.86 480.76v-17.9M499.87 480.76v-9.1M522.88 480.76v-17.9M545.89 480.76v-9.1M568.90 480.76v-17.9M591.91 480.76v-9.1M614.92 480.76v-17.9M637.93 480.76v-9.1M660.94 480.76v-17.9M453.85 455.34h9.1M453.85 429.77h17.9M453.85 404.20h9.1M453.85 378.63h17.9M453.85 353.06h9.1M453.85 327.49h17.9M453.85 301.92h9.1M453.85 276.35h17.9M453.85 710.89H683.95M476.86 710.89v-17.9M499.87 710.89v-9.1M522.88 710.89v-17.9M545.89 710.89v-9.1M568.90 710.89v-17.9M591.91 710.89v-9.1M614.92 710.89v-17.9M637.93 710.89v-9.1M660.94 710.89v-17.9M453.85 685.47h9.1M453.85 659.90h17.9M453.85 634.33h9.1M453.85 608.76h17.9M453.85 583.19h9.1M453.85 557.62h17.9M453.85 532.05h9.1M453.85 506.48h17.9M476.86 941.02v-17.9M499.87 941.02v-9.1M522.88 941.02v-17.9M545.89 941.02v-9.1M568.90 941.02v-17.9M591.91 941.02v-9.1M614.92 941.02v-17.9M637.93 941.02v-9.1M660.94 941.02v-17.9M453.85 915.60h9.1M453.85 890.03h17.9M453.85 864.46h9.1M453.85 838.89h17.9M453.85 813.32h9.1M453.85 787.75h17.9M453.85 762.18h9.1M453.85 736.61h17.9"/>
</g>
<g font-family="Liberation Sans, sans-serif" font-size="25" fill="#231815" stroke="#231815" stroke-width="0.6" stroke-linejoin="round">
<text x="79.50" y="208.59" text-anchor="end" letter-spacing="1.2">80</text>
<text x="79.50" y="157.45" text-anchor="end" letter-spacing="1.2">90</text>
<text x="79.50" y="106.31" text-anchor="end" letter-spacing="1.2">100</text>
<text x="79.50" y="55.17" text-anchor="end" letter-spacing="1.2">110</text>
<text x="79.50" y="438.72" text-anchor="end" letter-spacing="1.2">80</text>
<text x="79.50" y="387.58" text-anchor="end" letter-spacing="1.2">90</text>
<text x="79.50" y="336.44" text-anchor="end" letter-spacing="1.2">100</text>
<text x="79.50" y="285.30" text-anchor="end" letter-spacing="1.2">110</text>
<text x="79.50" y="668.85" text-anchor="end" letter-spacing="1.2">80</text>
<text x="79.50" y="617.71" text-anchor="end" letter-spacing="1.2">90</text>
<text x="79.50" y="566.57" text-anchor="end" letter-spacing="1.2">100</text>
<text x="79.50" y="515.43" text-anchor="end" letter-spacing="1.2">110</text>
<text x="79.50" y="898.98" text-anchor="end" letter-spacing="1.2">80</text>
<text x="79.50" y="847.84" text-anchor="end" letter-spacing="1.2">90</text>
<text x="79.50" y="796.70" text-anchor="end" letter-spacing="1.2">100</text>
<text x="79.50" y="745.56" text-anchor="end" letter-spacing="1.2">110</text>
<text x="79.50" y="950.12" text-anchor="end" letter-spacing="1.2">70</text>
<text x="114.71" y="972.6" text-anchor="middle" letter-spacing="1.2">-4</text>
<text x="160.73" y="972.6" text-anchor="middle" letter-spacing="1.2">-2</text>
<text x="206.15" y="972.6" text-anchor="middle">0</text>
<text x="252.17" y="972.6" text-anchor="middle">2</text>
<text x="298.19" y="972.6" text-anchor="middle">4</text>
<text x="162.10" y="1003.1" font-style="italic">V</text>
<text transform="translate(181.20 1009.1)" font-style="italic" font-size="19.5">TG</text>
<text x="215.40" y="1003.1">(</text>
<text transform="translate(223.80 1003.1) scale(1.11 1)">V</text>
<text x="244.60" y="1003.1">)</text>
<g transform="translate(18.40 135.56) rotate(-90)"><text x="-43.4" font-style="italic">R</text><text transform="translate(-23.0 5.2) scale(0.816 1)" font-style="italic" font-size="19.5" letter-spacing="2.6">xx</text><text x="3.0">(</text><text transform="translate(12.1 0) scale(1.12 1)">Ω</text><text x="35.5">)</text></g>
<g transform="translate(18.40 365.69) rotate(-90)"><text x="-43.4" font-style="italic">R</text><text transform="translate(-23.0 5.2) scale(0.816 1)" font-style="italic" font-size="19.5" letter-spacing="2.6">xx</text><text x="3.0">(</text><text transform="translate(12.1 0) scale(1.12 1)">Ω</text><text x="35.5">)</text></g>
<g transform="translate(18.40 595.83) rotate(-90)"><text x="-43.4" font-style="italic">R</text><text transform="translate(-23.0 5.2) scale(0.816 1)" font-style="italic" font-size="19.5" letter-spacing="2.6">xx</text><text x="3.0">(</text><text transform="translate(12.1 0) scale(1.12 1)">Ω</text><text x="35.5">)</text></g>
<g transform="translate(18.40 825.95) rotate(-90)"><text x="-43.4" font-style="italic">R</text><text transform="translate(-23.0 5.2) scale(0.816 1)" font-style="italic" font-size="19.5" letter-spacing="2.6">xx</text><text x="3.0">(</text><text transform="translate(12.1 0) scale(1.12 1)">Ω</text><text x="35.5">)</text></g>
<text x="442.25" y="208.59" text-anchor="end" letter-spacing="1.2">120</text>
<text x="442.25" y="157.45" text-anchor="end" letter-spacing="1.2">130</text>
<text x="442.25" y="106.31" text-anchor="end" letter-spacing="1.2">140</text>
<text x="442.25" y="55.17" text-anchor="end" letter-spacing="1.2">150</text>
<text x="442.25" y="438.72" text-anchor="end" letter-spacing="1.2">120</text>
<text x="442.25" y="387.58" text-anchor="end" letter-spacing="1.2">130</text>
<text x="442.25" y="336.44" text-anchor="end" letter-spacing="1.2">140</text>
<text x="442.25" y="285.30" text-anchor="end" letter-spacing="1.2">150</text>
<text x="442.25" y="668.85" text-anchor="end" letter-spacing="1.2">120</text>
<text x="442.25" y="617.71" text-anchor="end" letter-spacing="1.2">130</text>
<text x="442.25" y="566.57" text-anchor="end" letter-spacing="1.2">140</text>
<text x="442.25" y="515.43" text-anchor="end" letter-spacing="1.2">150</text>
<text x="442.25" y="898.98" text-anchor="end" letter-spacing="1.2">120</text>
<text x="442.25" y="847.84" text-anchor="end" letter-spacing="1.2">130</text>
<text x="442.25" y="796.70" text-anchor="end" letter-spacing="1.2">140</text>
<text x="442.25" y="745.56" text-anchor="end" letter-spacing="1.2">150</text>
<text x="442.25" y="950.12" text-anchor="end" letter-spacing="1.2">110</text>
<text x="477.46" y="972.6" text-anchor="middle" letter-spacing="1.2">-4</text>
<text x="523.48" y="972.6" text-anchor="middle" letter-spacing="1.2">-2</text>
<text x="568.90" y="972.6" text-anchor="middle">0</text>
<text x="614.92" y="972.6" text-anchor="middle">2</text>
<text x="660.94" y="972.6" text-anchor="middle">4</text>
<text x="524.85" y="1003.1" font-style="italic">V</text>
<text transform="translate(543.95 1009.1)" font-style="italic" font-size="19.5">TG</text>
<text x="578.15" y="1003.1">(</text>
<text transform="translate(586.55 1003.1) scale(1.11 1)">V</text>
<text x="607.35" y="1003.1">)</text>
<g transform="translate(381.15 135.56) rotate(-90)"><text x="-43.4" font-style="italic">R</text><text transform="translate(-23.0 5.2) scale(0.816 1)" font-style="italic" font-size="19.5" letter-spacing="2.6">xx</text><text x="3.0">(</text><text transform="translate(12.1 0) scale(1.12 1)">Ω</text><text x="35.5">)</text></g>
<g transform="translate(381.15 365.69) rotate(-90)"><text x="-43.4" font-style="italic">R</text><text transform="translate(-23.0 5.2) scale(0.816 1)" font-style="italic" font-size="19.5" letter-spacing="2.6">xx</text><text x="3.0">(</text><text transform="translate(12.1 0) scale(1.12 1)">Ω</text><text x="35.5">)</text></g>
<g transform="translate(381.15 595.83) rotate(-90)"><text x="-43.4" font-style="italic">R</text><text transform="translate(-23.0 5.2) scale(0.816 1)" font-style="italic" font-size="19.5" letter-spacing="2.6">xx</text><text x="3.0">(</text><text transform="translate(12.1 0) scale(1.12 1)">Ω</text><text x="35.5">)</text></g>
<g transform="translate(381.15 825.95) rotate(-90)"><text x="-43.4" font-style="italic">R</text><text transform="translate(-23.0 5.2) scale(0.816 1)" font-style="italic" font-size="19.5" letter-spacing="2.6">xx</text><text x="3.0">(</text><text transform="translate(12.1 0) scale(1.12 1)">Ω</text><text x="35.5">)</text></g>
<text y="52.9"><tspan x="121.3" font-style="italic">B</tspan><tspan x="154.2">=</tspan><tspan x="176.4">9</tspan><tspan x="197.7">T</tspan></text>
<text transform="translate(137.7 54.7) scale(1.6 1)" font-family="DejaVu Sans, sans-serif" font-size="14.5" stroke-width="0.2">∥</text>
<text y="83.3"><tspan x="119.60" font-style="italic">T</tspan><tspan x="142.20">=</tspan><tspan x="163.80" letter-spacing="1.2">50</tspan><tspan x="201.10">K</tspan></text>
<text y="285.4"><tspan x="119.60" font-style="italic">T</tspan><tspan x="142.20">=</tspan><tspan x="163.80" letter-spacing="1.2">30</tspan><tspan x="201.10">K</tspan></text>
<text y="515.4"><tspan x="119.60" font-style="italic">T</tspan><tspan x="142.20">=</tspan><tspan x="163.80" letter-spacing="1.2">20</tspan><tspan x="201.10">K</tspan></text>
<text y="918.0"><tspan x="208.6" font-style="italic">T</tspan><tspan x="231.2">=</tspan><tspan x="252.8" letter-spacing="1.2">1.5</tspan><tspan x="298.0">K</tspan></text>
<text y="52.9"><tspan x="480.0" font-style="italic">B</tspan><tspan x="497.5" font-family="DejaVu Sans, sans-serif" font-size="17">⊥</tspan><tspan x="518.7">=</tspan><tspan x="540.7">9</tspan><tspan x="561.9">T</tspan></text>
<text x="-2.2" y="15.8" font-weight="bold" font-size="25.8" stroke-width="0.3">a</text>
<text x="362.2" y="18.4" font-weight="bold" font-size="25.8" stroke-width="0.3">b</text>
</g>
<g stroke="#231815" stroke-width="2.5" fill="#231815">
<path d="M259.7 182.7H306" fill="none"/>
<path d="M283.8 174.3L298.2 182.7L283.8 191.1Z" stroke="none"/>
<path d="M259.7 208.2H305.8" fill="none" stroke-dasharray="4.5 2.35"/>
<path d="M282.1 199.9L267.8 208.2L282.1 216.5Z" stroke="none"/>
</g>
</svg>
</body></html>
